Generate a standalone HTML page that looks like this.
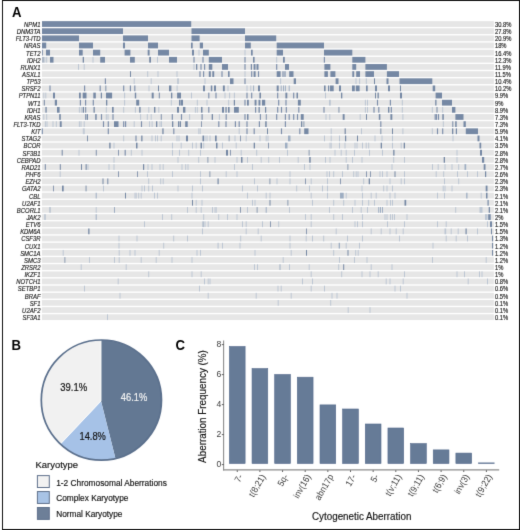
<!DOCTYPE html>
<html><head><meta charset="utf-8"><title>Figure</title>
<style>html,body{margin:0;padding:0;background:#fff;}body{width:520px;height:530px;overflow:hidden;}svg{display:block;}</style>
</head><body>
<svg width="520" height="530" viewBox="0 0 520 530">
<style>
text{font-family:"Liberation Sans",sans-serif;}
.g{font-size:6.8px;font-style:italic;text-anchor:end;fill:#1a1a1a;stroke:#1a1a1a;stroke-width:0.15px;}
.p{font-size:6.7px;fill:#1a1a1a;stroke:#1a1a1a;stroke-width:0.15px;}
.h{font-size:14px;font-weight:bold;fill:#000;}
.pl{fill:#111;stroke:#111;stroke-width:0.18px;}
.lt{fill:#111;stroke:#111;stroke-width:0.15px;}
.lg{fill:#111;stroke:#111;stroke-width:0.15px;}
.yt{font-size:8.6px;fill:#3a3a3a;}
.xt{font-size:9.2px;fill:#3a3a3a;}
.at{font-size:10.0px;fill:#111;stroke:#111;stroke-width:0.15px;}
</style>
<defs>
<filter id="bl" x="0" y="0" width="520" height="530" filterUnits="userSpaceOnUse" color-interpolation-filters="sRGB"><feConvolveMatrix order="3" kernelMatrix="0.0100 0.0800 0.0100 0.0800 0.6400 0.0800 0.0100 0.0800 0.0100" edgeMode="duplicate" preserveAlpha="true"/></filter>
<pattern id="pb" patternUnits="userSpaceOnUse" x="0" y="0" width="1.15" height="20"><rect x="0" y="0" width="1.15" height="20" fill="#7588a4"/><rect x="0" y="0" width="0.0" height="20" fill="#6a7f9e"/></pattern>
<pattern id="pg" patternUnits="userSpaceOnUse" x="0" y="0" width="1.15" height="20"><rect x="0" y="0" width="1.15" height="20" fill="#e6e6e6"/><rect x="0" y="0" width="0.0" height="20" fill="#d8d8d8"/></pattern>
</defs>
<g filter="url(#bl)">
<rect x="0" y="0" width="520" height="530" fill="#fff"/>
<rect x="2.5" y="0.5" width="517" height="529" fill="none" stroke="#111" stroke-width="1.0"/>
<text transform="translate(11.9,17.3) scale(0.94,1)" class="h">A</text>
<text transform="translate(11.5,349.9) scale(0.94,1)" class="h">B</text>
<text transform="translate(175.5,349.6) scale(0.94,1)" class="h">C</text>
<g>
<rect x="41.9" y="21.15" width="452.00" height="5.75" fill="#e6e6e6"/>
<rect x="41.9" y="28.30" width="452.00" height="5.75" fill="#e6e6e6"/>
<rect x="41.9" y="35.45" width="452.00" height="5.75" fill="#e6e6e6"/>
<rect x="41.9" y="42.60" width="452.00" height="5.75" fill="#e6e6e6"/>
<rect x="41.9" y="49.75" width="452.00" height="5.75" fill="#e6e6e6"/>
<rect x="41.9" y="56.90" width="452.00" height="5.75" fill="#e6e6e6"/>
<rect x="41.9" y="64.05" width="452.00" height="5.75" fill="#e6e6e6"/>
<rect x="41.9" y="71.20" width="452.00" height="5.75" fill="#e6e6e6"/>
<rect x="41.9" y="78.35" width="452.00" height="5.75" fill="#e6e6e6"/>
<rect x="41.9" y="85.50" width="452.00" height="5.75" fill="#e6e6e6"/>
<rect x="41.9" y="92.65" width="452.00" height="5.75" fill="#e6e6e6"/>
<rect x="41.9" y="99.80" width="452.00" height="5.75" fill="#e6e6e6"/>
<rect x="41.9" y="106.95" width="452.00" height="5.75" fill="#e6e6e6"/>
<rect x="41.9" y="114.10" width="452.00" height="5.75" fill="#e6e6e6"/>
<rect x="41.9" y="121.25" width="452.00" height="5.75" fill="#e6e6e6"/>
<rect x="41.9" y="128.40" width="452.00" height="5.75" fill="#e6e6e6"/>
<rect x="41.9" y="135.55" width="452.00" height="5.75" fill="#e6e6e6"/>
<rect x="41.9" y="142.70" width="452.00" height="5.75" fill="#e6e6e6"/>
<rect x="41.9" y="149.85" width="452.00" height="5.75" fill="#e6e6e6"/>
<rect x="41.9" y="157.00" width="452.00" height="5.75" fill="#e6e6e6"/>
<rect x="41.9" y="164.15" width="452.00" height="5.75" fill="#e6e6e6"/>
<rect x="41.9" y="171.30" width="452.00" height="5.75" fill="#e6e6e6"/>
<rect x="41.9" y="178.45" width="452.00" height="5.75" fill="#e6e6e6"/>
<rect x="41.9" y="185.60" width="452.00" height="5.75" fill="#e6e6e6"/>
<rect x="41.9" y="192.75" width="452.00" height="5.75" fill="#e6e6e6"/>
<rect x="41.9" y="199.90" width="452.00" height="5.75" fill="#e6e6e6"/>
<rect x="41.9" y="207.05" width="452.00" height="5.75" fill="#e6e6e6"/>
<rect x="41.9" y="214.20" width="452.00" height="5.75" fill="#e6e6e6"/>
<rect x="41.9" y="221.35" width="452.00" height="5.75" fill="#e6e6e6"/>
<rect x="41.9" y="228.50" width="452.00" height="5.75" fill="#e6e6e6"/>
<rect x="41.9" y="235.65" width="452.00" height="5.75" fill="#e6e6e6"/>
<rect x="41.9" y="242.80" width="452.00" height="5.75" fill="#e6e6e6"/>
<rect x="41.9" y="249.95" width="452.00" height="5.75" fill="#e6e6e6"/>
<rect x="41.9" y="257.10" width="452.00" height="5.75" fill="#e6e6e6"/>
<rect x="41.9" y="264.25" width="452.00" height="5.75" fill="#e6e6e6"/>
<rect x="41.9" y="271.40" width="452.00" height="5.75" fill="#e6e6e6"/>
<rect x="41.9" y="278.55" width="452.00" height="5.75" fill="#e6e6e6"/>
<rect x="41.9" y="285.70" width="452.00" height="5.75" fill="#e6e6e6"/>
<rect x="41.9" y="292.85" width="452.00" height="5.75" fill="#e6e6e6"/>
<rect x="41.9" y="300.00" width="452.00" height="5.75" fill="#e6e6e6"/>
<rect x="41.9" y="307.15" width="452.00" height="5.75" fill="#e6e6e6"/>
<rect x="41.9" y="314.30" width="452.00" height="5.75" fill="#e6e6e6"/>
<rect x="42.00" y="21.15" width="149.20" height="5.75" fill="#7588a4"/>
<rect x="42.00" y="28.30" width="81.00" height="5.75" fill="#7588a4"/>
<rect x="191.50" y="28.30" width="53.50" height="5.75" fill="#7588a4"/>
<rect x="42.00" y="35.45" width="37.00" height="5.75" fill="#7588a4"/>
<rect x="123.00" y="35.45" width="25.00" height="5.75" fill="#7588a4"/>
<rect x="191.50" y="35.45" width="8.10" height="5.75" fill="#7588a4"/>
<rect x="245.00" y="35.45" width="31.20" height="5.75" fill="#7588a4"/>
<rect x="42.00" y="42.60" width="4.20" height="5.75" fill="#7588a4"/>
<rect x="79.00" y="42.60" width="14.00" height="5.75" fill="#7588a4"/>
<rect x="123.00" y="42.60" width="2.00" height="5.75" fill="#7588a4"/>
<rect x="148.00" y="42.60" width="10.00" height="5.75" fill="#7588a4"/>
<rect x="191.00" y="42.60" width="1.70" height="5.75" fill="#7588a4"/>
<rect x="199.80" y="42.60" width="3.20" height="5.75" fill="#7588a4"/>
<rect x="245.00" y="42.60" width="5.80" height="5.75" fill="#7588a4"/>
<rect x="276.70" y="42.60" width="47.30" height="5.75" fill="#7588a4"/>
<rect x="42.00" y="49.75" width="0.80" height="5.75" fill="#7588a4"/>
<rect x="46.00" y="49.75" width="4.00" height="5.75" fill="#7588a4"/>
<rect x="79.00" y="49.75" width="3.70" height="5.75" fill="#7588a4"/>
<rect x="93.00" y="49.75" width="7.20" height="5.75" fill="#7588a4"/>
<rect x="124.60" y="49.75" width="5.80" height="5.75" fill="#7588a4"/>
<rect x="147.70" y="49.75" width="1.90" height="5.75" fill="#7588a4"/>
<rect x="158.00" y="49.75" width="11.00" height="5.75" fill="#7588a4"/>
<rect x="192.00" y="49.75" width="2.00" height="5.75" fill="#7588a4"/>
<rect x="198.50" y="49.75" width="1.00" height="5.75" fill="#bcc6d3"/>
<rect x="203.00" y="49.75" width="5.80" height="5.75" fill="#7588a4"/>
<rect x="244.50" y="49.75" width="1.00" height="5.75" fill="#bcc6d3"/>
<rect x="251.00" y="49.75" width="1.70" height="5.75" fill="#7588a4"/>
<rect x="276.70" y="49.75" width="6.30" height="5.75" fill="#7588a4"/>
<rect x="324.00" y="49.75" width="28.30" height="5.75" fill="#7588a4"/>
<rect x="42.50" y="56.90" width="1.00" height="5.75" fill="#7588a4"/>
<rect x="44.30" y="56.90" width="1.00" height="5.75" fill="#bcc6d3"/>
<rect x="46.20" y="56.90" width="1.00" height="5.75" fill="#bcc6d3"/>
<rect x="50.00" y="56.90" width="3.50" height="5.75" fill="#7588a4"/>
<rect x="82.70" y="56.90" width="1.30" height="5.75" fill="#7588a4"/>
<rect x="92.50" y="56.90" width="1.00" height="5.75" fill="#bcc6d3"/>
<rect x="100.20" y="56.90" width="4.80" height="5.75" fill="#7588a4"/>
<rect x="130.00" y="56.90" width="4.80" height="5.75" fill="#7588a4"/>
<rect x="149.20" y="56.90" width="1.80" height="5.75" fill="#7588a4"/>
<rect x="157.00" y="56.90" width="1.00" height="5.75" fill="#bcc6d3"/>
<rect x="169.00" y="56.90" width="8.00" height="5.75" fill="#7588a4"/>
<rect x="193.43" y="56.90" width="1.15" height="5.75" fill="#7b8daa"/>
<rect x="202.43" y="56.90" width="1.15" height="5.75" fill="#7b8daa"/>
<rect x="208.80" y="56.90" width="13.20" height="5.75" fill="#7588a4"/>
<rect x="244.43" y="56.90" width="1.15" height="5.75" fill="#7b8daa"/>
<rect x="253.00" y="56.90" width="1.60" height="5.75" fill="#7588a4"/>
<rect x="276.20" y="56.90" width="1.00" height="5.75" fill="#bcc6d3"/>
<rect x="283.00" y="56.90" width="1.80" height="5.75" fill="#7588a4"/>
<rect x="323.82" y="56.90" width="1.15" height="5.75" fill="#7b8daa"/>
<rect x="352.30" y="56.90" width="13.10" height="5.75" fill="#7588a4"/>
<rect x="78.00" y="64.05" width="1.00" height="5.75" fill="#bcc6d3"/>
<rect x="83.70" y="64.05" width="1.00" height="5.75" fill="#bcc6d3"/>
<rect x="193.50" y="64.05" width="1.00" height="5.75" fill="#bcc6d3"/>
<rect x="196.00" y="64.05" width="1.30" height="5.75" fill="#7588a4"/>
<rect x="200.43" y="64.05" width="1.15" height="5.75" fill="#7b8daa"/>
<rect x="204.03" y="64.05" width="1.15" height="5.75" fill="#7b8daa"/>
<rect x="208.80" y="64.05" width="3.50" height="5.75" fill="#7588a4"/>
<rect x="222.00" y="64.05" width="6.00" height="5.75" fill="#7588a4"/>
<rect x="244.43" y="64.05" width="1.15" height="5.75" fill="#7b8daa"/>
<rect x="250.80" y="64.05" width="1.20" height="5.75" fill="#7588a4"/>
<rect x="253.60" y="64.05" width="1.90" height="5.75" fill="#7588a4"/>
<rect x="256.50" y="64.05" width="2.00" height="5.75" fill="#7588a4"/>
<rect x="276.12" y="64.05" width="1.15" height="5.75" fill="#7b8daa"/>
<rect x="285.00" y="64.05" width="4.00" height="5.75" fill="#7588a4"/>
<rect x="324.40" y="64.05" width="6.00" height="5.75" fill="#7588a4"/>
<rect x="352.30" y="64.05" width="3.90" height="5.75" fill="#7588a4"/>
<rect x="365.40" y="64.05" width="21.50" height="5.75" fill="#7588a4"/>
<rect x="130.00" y="71.20" width="1.00" height="5.75" fill="#7588a4"/>
<rect x="147.20" y="71.20" width="1.00" height="5.75" fill="#bcc6d3"/>
<rect x="157.50" y="71.20" width="1.00" height="5.75" fill="#bcc6d3"/>
<rect x="176.50" y="71.20" width="1.00" height="5.75" fill="#bcc6d3"/>
<rect x="199.43" y="71.20" width="1.15" height="5.75" fill="#7b8daa"/>
<rect x="203.03" y="71.20" width="1.15" height="5.75" fill="#7b8daa"/>
<rect x="208.80" y="71.20" width="2.00" height="5.75" fill="#7588a4"/>
<rect x="212.30" y="71.20" width="1.90" height="5.75" fill="#7588a4"/>
<rect x="221.43" y="71.20" width="1.15" height="5.75" fill="#7b8daa"/>
<rect x="228.00" y="71.20" width="1.60" height="5.75" fill="#7588a4"/>
<rect x="244.50" y="71.20" width="1.00" height="5.75" fill="#bcc6d3"/>
<rect x="251.12" y="71.20" width="1.15" height="5.75" fill="#7b8daa"/>
<rect x="253.60" y="71.20" width="2.00" height="5.75" fill="#7588a4"/>
<rect x="257.93" y="71.20" width="1.15" height="5.75" fill="#7b8daa"/>
<rect x="276.70" y="71.20" width="3.90" height="5.75" fill="#7588a4"/>
<rect x="282.43" y="71.20" width="1.15" height="5.75" fill="#7b8daa"/>
<rect x="284.43" y="71.20" width="1.15" height="5.75" fill="#7b8daa"/>
<rect x="289.20" y="71.20" width="4.30" height="5.75" fill="#7588a4"/>
<rect x="324.40" y="71.20" width="3.50" height="5.75" fill="#7588a4"/>
<rect x="330.40" y="71.20" width="5.00" height="5.75" fill="#7588a4"/>
<rect x="352.30" y="71.20" width="1.90" height="5.75" fill="#7588a4"/>
<rect x="356.20" y="71.20" width="3.80" height="5.75" fill="#7588a4"/>
<rect x="365.40" y="71.20" width="8.60" height="5.75" fill="#7588a4"/>
<rect x="386.90" y="71.20" width="12.10" height="5.75" fill="#7588a4"/>
<rect x="104.83" y="78.35" width="1.15" height="5.75" fill="#7b8daa"/>
<rect x="133.70" y="78.35" width="1.00" height="5.75" fill="#bcc6d3"/>
<rect x="150.70" y="78.35" width="1.00" height="5.75" fill="#bcc6d3"/>
<rect x="177.50" y="78.35" width="1.00" height="5.75" fill="#9dadc2"/>
<rect x="204.50" y="78.35" width="1.00" height="5.75" fill="#bcc6d3"/>
<rect x="230.00" y="78.35" width="3.50" height="5.75" fill="#7588a4"/>
<rect x="244.43" y="78.35" width="1.15" height="5.75" fill="#7b8daa"/>
<rect x="280.10" y="78.35" width="1.00" height="5.75" fill="#bcc6d3"/>
<rect x="293.70" y="78.35" width="2.30" height="5.75" fill="#7588a4"/>
<rect x="335.60" y="78.35" width="2.90" height="5.75" fill="#7588a4"/>
<rect x="355.50" y="78.35" width="1.00" height="5.75" fill="#bcc6d3"/>
<rect x="359.10" y="78.35" width="1.00" height="5.75" fill="#bcc6d3"/>
<rect x="365.80" y="78.35" width="1.00" height="5.75" fill="#bcc6d3"/>
<rect x="374.00" y="78.35" width="1.00" height="5.75" fill="#7588a4"/>
<rect x="386.50" y="78.35" width="2.00" height="5.75" fill="#7588a4"/>
<rect x="399.50" y="78.35" width="32.80" height="5.75" fill="#7588a4"/>
<rect x="49.42" y="85.50" width="1.15" height="5.75" fill="#7b8daa"/>
<rect x="84.02" y="85.50" width="1.15" height="5.75" fill="#7b8daa"/>
<rect x="99.62" y="85.50" width="1.15" height="5.75" fill="#7b8daa"/>
<rect x="105.40" y="85.50" width="0.90" height="5.75" fill="#7588a4"/>
<rect x="123.12" y="85.50" width="1.15" height="5.75" fill="#7b8daa"/>
<rect x="129.83" y="85.50" width="1.15" height="5.75" fill="#7b8daa"/>
<rect x="134.23" y="85.50" width="1.15" height="5.75" fill="#7b8daa"/>
<rect x="148.50" y="85.50" width="1.00" height="5.75" fill="#bcc6d3"/>
<rect x="158.00" y="85.50" width="1.00" height="5.75" fill="#7588a4"/>
<rect x="169.00" y="85.50" width="2.40" height="5.75" fill="#7588a4"/>
<rect x="176.60" y="85.50" width="1.00" height="5.75" fill="#bcc6d3"/>
<rect x="203.00" y="85.50" width="2.00" height="5.75" fill="#7588a4"/>
<rect x="210.80" y="85.50" width="1.50" height="5.75" fill="#7588a4"/>
<rect x="214.00" y="85.50" width="2.00" height="5.75" fill="#7588a4"/>
<rect x="222.90" y="85.50" width="1.90" height="5.75" fill="#7588a4"/>
<rect x="227.50" y="85.50" width="1.00" height="5.75" fill="#bcc6d3"/>
<rect x="246.50" y="85.50" width="1.00" height="5.75" fill="#bcc6d3"/>
<rect x="250.30" y="85.50" width="1.00" height="5.75" fill="#bcc6d3"/>
<rect x="253.10" y="85.50" width="1.00" height="5.75" fill="#9dadc2"/>
<rect x="258.00" y="85.50" width="2.00" height="5.75" fill="#7588a4"/>
<rect x="276.70" y="85.50" width="2.00" height="5.75" fill="#7588a4"/>
<rect x="280.70" y="85.50" width="1.00" height="5.75" fill="#9dadc2"/>
<rect x="283.00" y="85.50" width="1.00" height="5.75" fill="#9dadc2"/>
<rect x="284.90" y="85.50" width="1.00" height="5.75" fill="#9dadc2"/>
<rect x="288.70" y="85.50" width="1.00" height="5.75" fill="#9dadc2"/>
<rect x="324.00" y="85.50" width="1.60" height="5.75" fill="#7588a4"/>
<rect x="328.00" y="85.50" width="1.00" height="5.75" fill="#7588a4"/>
<rect x="329.80" y="85.50" width="3.90" height="5.75" fill="#7588a4"/>
<rect x="339.00" y="85.50" width="2.00" height="5.75" fill="#7588a4"/>
<rect x="352.00" y="85.50" width="2.80" height="5.75" fill="#7588a4"/>
<rect x="355.80" y="85.50" width="3.80" height="5.75" fill="#7588a4"/>
<rect x="366.00" y="85.50" width="1.70" height="5.75" fill="#7588a4"/>
<rect x="375.00" y="85.50" width="2.00" height="5.75" fill="#7588a4"/>
<rect x="388.00" y="85.50" width="2.00" height="5.75" fill="#7588a4"/>
<rect x="400.00" y="85.50" width="1.00" height="5.75" fill="#7588a4"/>
<rect x="432.70" y="85.50" width="2.50" height="5.75" fill="#7588a4"/>
<rect x="43.30" y="92.65" width="1.00" height="5.75" fill="#bcc6d3"/>
<rect x="45.30" y="92.65" width="1.00" height="5.75" fill="#bcc6d3"/>
<rect x="53.00" y="92.65" width="2.00" height="5.75" fill="#7588a4"/>
<rect x="79.00" y="92.65" width="1.80" height="5.75" fill="#7588a4"/>
<rect x="82.70" y="92.65" width="3.80" height="5.75" fill="#7588a4"/>
<rect x="93.30" y="92.65" width="2.50" height="5.75" fill="#7588a4"/>
<rect x="100.80" y="92.65" width="1.20" height="5.75" fill="#7588a4"/>
<rect x="106.00" y="92.65" width="6.10" height="5.75" fill="#7588a4"/>
<rect x="124.10" y="92.65" width="1.00" height="5.75" fill="#bcc6d3"/>
<rect x="134.80" y="92.65" width="1.40" height="5.75" fill="#7588a4"/>
<rect x="151.70" y="92.65" width="2.00" height="5.75" fill="#7588a4"/>
<rect x="158.80" y="92.65" width="1.00" height="5.75" fill="#7588a4"/>
<rect x="171.00" y="92.65" width="1.30" height="5.75" fill="#7588a4"/>
<rect x="177.10" y="92.65" width="3.90" height="5.75" fill="#7588a4"/>
<rect x="191.00" y="92.65" width="1.00" height="5.75" fill="#bcc6d3"/>
<rect x="208.23" y="92.65" width="1.15" height="5.75" fill="#7b8daa"/>
<rect x="215.43" y="92.65" width="1.15" height="5.75" fill="#7b8daa"/>
<rect x="224.50" y="92.65" width="1.00" height="5.75" fill="#bcc6d3"/>
<rect x="229.10" y="92.65" width="1.00" height="5.75" fill="#bcc6d3"/>
<rect x="233.90" y="92.65" width="1.00" height="5.75" fill="#bcc6d3"/>
<rect x="246.43" y="92.65" width="1.15" height="5.75" fill="#7b8daa"/>
<rect x="251.12" y="92.65" width="1.15" height="5.75" fill="#7b8daa"/>
<rect x="259.40" y="92.65" width="1.60" height="5.75" fill="#7588a4"/>
<rect x="277.12" y="92.65" width="1.15" height="5.75" fill="#7b8daa"/>
<rect x="285.40" y="92.65" width="1.90" height="5.75" fill="#7588a4"/>
<rect x="293.12" y="92.65" width="1.15" height="5.75" fill="#7b8daa"/>
<rect x="296.50" y="92.65" width="1.50" height="5.75" fill="#7588a4"/>
<rect x="325.00" y="92.65" width="1.00" height="5.75" fill="#bcc6d3"/>
<rect x="341.00" y="92.65" width="1.30" height="5.75" fill="#7588a4"/>
<rect x="375.00" y="92.65" width="1.00" height="5.75" fill="#7588a4"/>
<rect x="377.50" y="92.65" width="1.30" height="5.75" fill="#7588a4"/>
<rect x="400.00" y="92.65" width="2.00" height="5.75" fill="#7588a4"/>
<rect x="435.60" y="92.65" width="6.40" height="5.75" fill="#7588a4"/>
<rect x="43.80" y="99.80" width="1.00" height="5.75" fill="#7588a4"/>
<rect x="54.80" y="99.80" width="2.20" height="5.75" fill="#7588a4"/>
<rect x="79.83" y="99.80" width="1.15" height="5.75" fill="#7b8daa"/>
<rect x="85.02" y="99.80" width="1.15" height="5.75" fill="#7b8daa"/>
<rect x="92.72" y="99.80" width="1.15" height="5.75" fill="#7b8daa"/>
<rect x="106.00" y="99.80" width="1.30" height="5.75" fill="#7588a4"/>
<rect x="124.10" y="99.80" width="1.00" height="5.75" fill="#bcc6d3"/>
<rect x="136.20" y="99.80" width="3.00" height="5.75" fill="#7588a4"/>
<rect x="170.80" y="99.80" width="1.00" height="5.75" fill="#bcc6d3"/>
<rect x="179.00" y="99.80" width="1.60" height="5.75" fill="#7588a4"/>
<rect x="181.00" y="99.80" width="2.00" height="5.75" fill="#7588a4"/>
<rect x="196.80" y="99.80" width="1.00" height="5.75" fill="#bcc6d3"/>
<rect x="206.50" y="99.80" width="1.00" height="5.75" fill="#bcc6d3"/>
<rect x="228.20" y="99.80" width="1.00" height="5.75" fill="#bcc6d3"/>
<rect x="233.80" y="99.80" width="1.20" height="5.75" fill="#7588a4"/>
<rect x="244.43" y="99.80" width="1.15" height="5.75" fill="#7b8daa"/>
<rect x="247.00" y="99.80" width="1.80" height="5.75" fill="#7588a4"/>
<rect x="254.60" y="99.80" width="1.90" height="5.75" fill="#7588a4"/>
<rect x="258.50" y="99.80" width="1.90" height="5.75" fill="#7588a4"/>
<rect x="262.00" y="99.80" width="3.20" height="5.75" fill="#7588a4"/>
<rect x="278.12" y="99.80" width="1.15" height="5.75" fill="#7b8daa"/>
<rect x="285.43" y="99.80" width="1.15" height="5.75" fill="#7b8daa"/>
<rect x="297.90" y="99.80" width="2.90" height="5.75" fill="#7588a4"/>
<rect x="329.00" y="99.80" width="1.80" height="5.75" fill="#bcc6d3"/>
<rect x="364.90" y="99.80" width="1.00" height="5.75" fill="#bcc6d3"/>
<rect x="367.00" y="99.80" width="1.00" height="5.75" fill="#bcc6d3"/>
<rect x="376.93" y="99.80" width="1.15" height="5.75" fill="#7b8daa"/>
<rect x="389.82" y="99.80" width="1.15" height="5.75" fill="#7b8daa"/>
<rect x="401.80" y="99.80" width="1.00" height="5.75" fill="#bcc6d3"/>
<rect x="435.20" y="99.80" width="1.30" height="5.75" fill="#7588a4"/>
<rect x="442.00" y="99.80" width="10.00" height="5.75" fill="#7588a4"/>
<rect x="45.40" y="106.95" width="1.30" height="5.75" fill="#7588a4"/>
<rect x="57.00" y="106.95" width="2.60" height="5.75" fill="#7588a4"/>
<rect x="78.90" y="106.95" width="1.00" height="5.75" fill="#bcc6d3"/>
<rect x="80.80" y="106.95" width="1.00" height="5.75" fill="#bcc6d3"/>
<rect x="82.70" y="106.95" width="1.30" height="5.75" fill="#7588a4"/>
<rect x="85.20" y="106.95" width="1.00" height="5.75" fill="#7588a4"/>
<rect x="93.50" y="106.95" width="1.30" height="5.75" fill="#7588a4"/>
<rect x="105.80" y="106.95" width="1.00" height="5.75" fill="#bcc6d3"/>
<rect x="112.00" y="106.95" width="1.70" height="5.75" fill="#7588a4"/>
<rect x="123.20" y="106.95" width="1.00" height="5.75" fill="#bcc6d3"/>
<rect x="134.90" y="106.95" width="1.00" height="5.75" fill="#bcc6d3"/>
<rect x="139.20" y="106.95" width="1.40" height="5.75" fill="#7588a4"/>
<rect x="148.30" y="106.95" width="1.00" height="5.75" fill="#bcc6d3"/>
<rect x="154.00" y="106.95" width="1.40" height="5.75" fill="#7588a4"/>
<rect x="158.30" y="106.95" width="1.00" height="5.75" fill="#bcc6d3"/>
<rect x="177.00" y="106.95" width="2.00" height="5.75" fill="#7588a4"/>
<rect x="183.00" y="106.95" width="2.40" height="5.75" fill="#7588a4"/>
<rect x="194.90" y="106.95" width="1.00" height="5.75" fill="#bcc6d3"/>
<rect x="196.80" y="106.95" width="1.00" height="5.75" fill="#bcc6d3"/>
<rect x="201.00" y="106.95" width="1.50" height="5.75" fill="#7588a4"/>
<rect x="208.23" y="106.95" width="1.15" height="5.75" fill="#7b8daa"/>
<rect x="222.00" y="106.95" width="2.00" height="5.75" fill="#7588a4"/>
<rect x="225.40" y="106.95" width="1.30" height="5.75" fill="#7588a4"/>
<rect x="228.00" y="106.95" width="1.60" height="5.75" fill="#7588a4"/>
<rect x="234.00" y="106.95" width="4.80" height="5.75" fill="#7588a4"/>
<rect x="255.03" y="106.95" width="1.15" height="5.75" fill="#7b8daa"/>
<rect x="258.50" y="106.95" width="1.30" height="5.75" fill="#7588a4"/>
<rect x="265.00" y="106.95" width="1.20" height="5.75" fill="#7588a4"/>
<rect x="277.12" y="106.95" width="1.15" height="5.75" fill="#7b8daa"/>
<rect x="280.93" y="106.95" width="1.15" height="5.75" fill="#7b8daa"/>
<rect x="285.73" y="106.95" width="1.15" height="5.75" fill="#7b8daa"/>
<rect x="298.23" y="106.95" width="1.15" height="5.75" fill="#7b8daa"/>
<rect x="323.43" y="106.95" width="1.15" height="5.75" fill="#7b8daa"/>
<rect x="338.50" y="106.95" width="0.90" height="5.75" fill="#7588a4"/>
<rect x="364.90" y="106.95" width="1.00" height="5.75" fill="#bcc6d3"/>
<rect x="367.00" y="106.95" width="1.00" height="5.75" fill="#bcc6d3"/>
<rect x="373.43" y="106.95" width="1.15" height="5.75" fill="#7b8daa"/>
<rect x="378.23" y="106.95" width="1.15" height="5.75" fill="#7b8daa"/>
<rect x="388.00" y="106.95" width="1.40" height="5.75" fill="#7588a4"/>
<rect x="390.73" y="106.95" width="1.15" height="5.75" fill="#7b8daa"/>
<rect x="401.80" y="106.95" width="1.00" height="5.75" fill="#bcc6d3"/>
<rect x="431.80" y="106.95" width="1.00" height="5.75" fill="#bcc6d3"/>
<rect x="436.50" y="106.95" width="1.00" height="5.75" fill="#7588a4"/>
<rect x="442.20" y="106.95" width="1.00" height="5.75" fill="#bcc6d3"/>
<rect x="452.00" y="106.95" width="3.40" height="5.75" fill="#7588a4"/>
<rect x="43.30" y="114.10" width="1.00" height="5.75" fill="#bcc6d3"/>
<rect x="46.20" y="114.10" width="1.00" height="5.75" fill="#bcc6d3"/>
<rect x="59.20" y="114.10" width="1.60" height="5.75" fill="#7588a4"/>
<rect x="85.20" y="114.10" width="1.10" height="5.75" fill="#7588a4"/>
<rect x="86.80" y="114.10" width="1.20" height="5.75" fill="#7588a4"/>
<rect x="95.20" y="114.10" width="1.50" height="5.75" fill="#7588a4"/>
<rect x="100.92" y="114.10" width="1.15" height="5.75" fill="#7b8daa"/>
<rect x="105.80" y="114.10" width="1.00" height="5.75" fill="#bcc6d3"/>
<rect x="107.50" y="114.10" width="1.00" height="5.75" fill="#bcc6d3"/>
<rect x="112.42" y="114.10" width="1.15" height="5.75" fill="#7b8daa"/>
<rect x="140.10" y="114.10" width="1.00" height="5.75" fill="#bcc6d3"/>
<rect x="146.80" y="114.10" width="1.00" height="5.75" fill="#bcc6d3"/>
<rect x="150.70" y="114.10" width="1.00" height="5.75" fill="#bcc6d3"/>
<rect x="160.80" y="114.10" width="0.90" height="5.75" fill="#7588a4"/>
<rect x="171.73" y="114.10" width="1.15" height="5.75" fill="#7b8daa"/>
<rect x="180.93" y="114.10" width="1.15" height="5.75" fill="#7b8daa"/>
<rect x="189.10" y="114.10" width="1.00" height="5.75" fill="#bcc6d3"/>
<rect x="201.53" y="114.10" width="1.15" height="5.75" fill="#7b8daa"/>
<rect x="211.70" y="114.10" width="1.30" height="5.75" fill="#7588a4"/>
<rect x="218.90" y="114.10" width="1.00" height="5.75" fill="#bcc6d3"/>
<rect x="225.62" y="114.10" width="1.15" height="5.75" fill="#7b8daa"/>
<rect x="244.43" y="114.10" width="1.15" height="5.75" fill="#7b8daa"/>
<rect x="247.00" y="114.10" width="1.50" height="5.75" fill="#7588a4"/>
<rect x="259.82" y="114.10" width="1.15" height="5.75" fill="#7b8daa"/>
<rect x="265.80" y="114.10" width="0.90" height="5.75" fill="#7588a4"/>
<rect x="276.12" y="114.10" width="1.15" height="5.75" fill="#7b8daa"/>
<rect x="284.82" y="114.10" width="1.15" height="5.75" fill="#7b8daa"/>
<rect x="288.62" y="114.10" width="1.15" height="5.75" fill="#7b8daa"/>
<rect x="293.12" y="114.10" width="1.15" height="5.75" fill="#7b8daa"/>
<rect x="296.93" y="114.10" width="1.15" height="5.75" fill="#7b8daa"/>
<rect x="300.80" y="114.10" width="2.90" height="5.75" fill="#7588a4"/>
<rect x="325.50" y="114.10" width="1.00" height="5.75" fill="#bcc6d3"/>
<rect x="329.30" y="114.10" width="1.00" height="5.75" fill="#bcc6d3"/>
<rect x="342.70" y="114.10" width="1.90" height="5.75" fill="#7588a4"/>
<rect x="359.70" y="114.10" width="1.00" height="5.75" fill="#bcc6d3"/>
<rect x="366.00" y="114.10" width="1.00" height="5.75" fill="#7588a4"/>
<rect x="378.80" y="114.10" width="1.60" height="5.75" fill="#7588a4"/>
<rect x="390.40" y="114.10" width="1.90" height="5.75" fill="#7588a4"/>
<rect x="402.40" y="114.10" width="1.00" height="5.75" fill="#bcc6d3"/>
<rect x="434.62" y="114.10" width="1.15" height="5.75" fill="#7b8daa"/>
<rect x="435.93" y="114.10" width="1.15" height="5.75" fill="#7b8daa"/>
<rect x="437.93" y="114.10" width="1.15" height="5.75" fill="#7b8daa"/>
<rect x="442.30" y="114.10" width="1.50" height="5.75" fill="#7588a4"/>
<rect x="455.40" y="114.10" width="8.10" height="5.75" fill="#7588a4"/>
<rect x="44.90" y="121.25" width="1.00" height="5.75" fill="#bcc6d3"/>
<rect x="46.50" y="121.25" width="1.00" height="5.75" fill="#bcc6d3"/>
<rect x="52.50" y="121.25" width="1.00" height="5.75" fill="#bcc6d3"/>
<rect x="55.80" y="121.25" width="1.00" height="5.75" fill="#bcc6d3"/>
<rect x="59.80" y="121.25" width="1.90" height="5.75" fill="#7588a4"/>
<rect x="78.90" y="121.25" width="1.00" height="5.75" fill="#bcc6d3"/>
<rect x="80.50" y="121.25" width="1.00" height="5.75" fill="#bcc6d3"/>
<rect x="83.70" y="121.25" width="1.00" height="5.75" fill="#bcc6d3"/>
<rect x="102.92" y="121.25" width="1.15" height="5.75" fill="#7b8daa"/>
<rect x="107.72" y="121.25" width="1.15" height="5.75" fill="#7b8daa"/>
<rect x="114.00" y="121.25" width="4.50" height="5.75" fill="#7588a4"/>
<rect x="123.12" y="121.25" width="1.15" height="5.75" fill="#7b8daa"/>
<rect x="125.02" y="121.25" width="1.15" height="5.75" fill="#7b8daa"/>
<rect x="133.70" y="121.25" width="1.00" height="5.75" fill="#bcc6d3"/>
<rect x="140.93" y="121.25" width="1.15" height="5.75" fill="#7b8daa"/>
<rect x="149.10" y="121.25" width="1.00" height="5.75" fill="#bcc6d3"/>
<rect x="151.60" y="121.25" width="1.00" height="5.75" fill="#bcc6d3"/>
<rect x="156.00" y="121.25" width="1.30" height="5.75" fill="#7588a4"/>
<rect x="159.50" y="121.25" width="1.00" height="5.75" fill="#bcc6d3"/>
<rect x="161.00" y="121.25" width="1.00" height="5.75" fill="#bcc6d3"/>
<rect x="172.00" y="121.25" width="1.30" height="5.75" fill="#7588a4"/>
<rect x="178.00" y="121.25" width="1.30" height="5.75" fill="#7588a4"/>
<rect x="179.80" y="121.25" width="1.20" height="5.75" fill="#7588a4"/>
<rect x="185.20" y="121.25" width="2.50" height="5.75" fill="#7588a4"/>
<rect x="201.20" y="121.25" width="0.80" height="5.75" fill="#7588a4"/>
<rect x="218.23" y="121.25" width="1.15" height="5.75" fill="#7b8daa"/>
<rect x="225.43" y="121.25" width="1.15" height="5.75" fill="#7b8daa"/>
<rect x="234.83" y="121.25" width="1.15" height="5.75" fill="#7b8daa"/>
<rect x="238.62" y="121.25" width="1.15" height="5.75" fill="#7b8daa"/>
<rect x="246.43" y="121.25" width="1.15" height="5.75" fill="#7b8daa"/>
<rect x="258.82" y="121.25" width="1.15" height="5.75" fill="#7b8daa"/>
<rect x="265.20" y="121.25" width="1.50" height="5.75" fill="#7588a4"/>
<rect x="284.82" y="121.25" width="1.15" height="5.75" fill="#7b8daa"/>
<rect x="301.00" y="121.25" width="1.30" height="5.75" fill="#7588a4"/>
<rect x="303.50" y="121.25" width="0.80" height="5.75" fill="#7588a4"/>
<rect x="380.23" y="121.25" width="1.15" height="5.75" fill="#7b8daa"/>
<rect x="442.80" y="121.25" width="1.00" height="5.75" fill="#bcc6d3"/>
<rect x="452.30" y="121.25" width="1.00" height="5.75" fill="#7588a4"/>
<rect x="455.20" y="121.25" width="1.50" height="5.75" fill="#7588a4"/>
<rect x="463.50" y="121.25" width="2.30" height="5.75" fill="#7588a4"/>
<rect x="41.72" y="128.40" width="1.15" height="5.75" fill="#7b8daa"/>
<rect x="82.80" y="128.40" width="1.00" height="5.75" fill="#bcc6d3"/>
<rect x="83.70" y="128.40" width="1.00" height="5.75" fill="#bcc6d3"/>
<rect x="107.72" y="128.40" width="1.15" height="5.75" fill="#7b8daa"/>
<rect x="162.30" y="128.40" width="1.30" height="5.75" fill="#7588a4"/>
<rect x="173.23" y="128.40" width="1.15" height="5.75" fill="#7b8daa"/>
<rect x="198.30" y="128.40" width="1.00" height="5.75" fill="#bcc6d3"/>
<rect x="199.70" y="128.40" width="1.00" height="5.75" fill="#bcc6d3"/>
<rect x="238.70" y="128.40" width="1.00" height="5.75" fill="#bcc6d3"/>
<rect x="246.43" y="128.40" width="1.15" height="5.75" fill="#7b8daa"/>
<rect x="253.62" y="128.40" width="1.15" height="5.75" fill="#7b8daa"/>
<rect x="267.00" y="128.40" width="1.00" height="5.75" fill="#7588a4"/>
<rect x="280.93" y="128.40" width="1.15" height="5.75" fill="#7b8daa"/>
<rect x="299.23" y="128.40" width="1.15" height="5.75" fill="#7b8daa"/>
<rect x="304.20" y="128.40" width="4.30" height="5.75" fill="#7588a4"/>
<rect x="330.70" y="128.40" width="1.00" height="5.75" fill="#bcc6d3"/>
<rect x="344.60" y="128.40" width="1.20" height="5.75" fill="#7588a4"/>
<rect x="361.00" y="128.40" width="1.00" height="5.75" fill="#bcc6d3"/>
<rect x="380.40" y="128.40" width="0.90" height="5.75" fill="#7588a4"/>
<rect x="392.00" y="128.40" width="1.00" height="5.75" fill="#7588a4"/>
<rect x="402.40" y="128.40" width="1.00" height="5.75" fill="#bcc6d3"/>
<rect x="431.80" y="128.40" width="1.00" height="5.75" fill="#bcc6d3"/>
<rect x="436.93" y="128.40" width="1.15" height="5.75" fill="#7b8daa"/>
<rect x="442.12" y="128.40" width="1.15" height="5.75" fill="#7b8daa"/>
<rect x="452.00" y="128.40" width="1.30" height="5.75" fill="#7588a4"/>
<rect x="455.80" y="128.40" width="1.20" height="5.75" fill="#7588a4"/>
<rect x="465.80" y="128.40" width="12.20" height="5.75" fill="#7588a4"/>
<rect x="87.10" y="135.55" width="0.90" height="5.75" fill="#7588a4"/>
<rect x="123.20" y="135.55" width="1.00" height="5.75" fill="#bcc6d3"/>
<rect x="135.43" y="135.55" width="1.15" height="5.75" fill="#7b8daa"/>
<rect x="141.20" y="135.55" width="1.30" height="5.75" fill="#7588a4"/>
<rect x="151.50" y="135.55" width="1.00" height="5.75" fill="#bcc6d3"/>
<rect x="155.00" y="135.55" width="1.00" height="5.75" fill="#bcc6d3"/>
<rect x="157.00" y="135.55" width="1.00" height="5.75" fill="#bcc6d3"/>
<rect x="160.70" y="135.55" width="1.00" height="5.75" fill="#bcc6d3"/>
<rect x="176.50" y="135.55" width="1.00" height="5.75" fill="#bcc6d3"/>
<rect x="178.50" y="135.55" width="1.00" height="5.75" fill="#bcc6d3"/>
<rect x="186.00" y="135.55" width="2.00" height="5.75" fill="#7588a4"/>
<rect x="202.50" y="135.55" width="1.50" height="5.75" fill="#7588a4"/>
<rect x="204.50" y="135.55" width="1.00" height="5.75" fill="#bcc6d3"/>
<rect x="206.50" y="135.55" width="1.00" height="5.75" fill="#bcc6d3"/>
<rect x="209.50" y="135.55" width="1.00" height="5.75" fill="#bcc6d3"/>
<rect x="215.00" y="135.55" width="1.70" height="5.75" fill="#7588a4"/>
<rect x="228.70" y="135.55" width="0.80" height="5.75" fill="#7588a4"/>
<rect x="234.50" y="135.55" width="1.00" height="5.75" fill="#bcc6d3"/>
<rect x="240.00" y="135.55" width="0.80" height="5.75" fill="#7588a4"/>
<rect x="245.70" y="135.55" width="1.00" height="5.75" fill="#bcc6d3"/>
<rect x="259.50" y="135.55" width="1.00" height="5.75" fill="#bcc6d3"/>
<rect x="265.70" y="135.55" width="1.00" height="5.75" fill="#bcc6d3"/>
<rect x="267.50" y="135.55" width="1.00" height="5.75" fill="#bcc6d3"/>
<rect x="288.00" y="135.55" width="2.50" height="5.75" fill="#9dadc2"/>
<rect x="324.00" y="135.55" width="1.00" height="5.75" fill="#bcc6d3"/>
<rect x="330.70" y="135.55" width="1.00" height="5.75" fill="#bcc6d3"/>
<rect x="339.00" y="135.55" width="1.00" height="5.75" fill="#bcc6d3"/>
<rect x="345.00" y="135.55" width="1.20" height="5.75" fill="#7588a4"/>
<rect x="357.00" y="135.55" width="1.00" height="5.75" fill="#7588a4"/>
<rect x="374.50" y="135.55" width="1.00" height="5.75" fill="#bcc6d3"/>
<rect x="381.50" y="135.55" width="1.00" height="5.75" fill="#bcc6d3"/>
<rect x="392.00" y="135.55" width="1.00" height="5.75" fill="#bcc6d3"/>
<rect x="452.50" y="135.55" width="1.00" height="5.75" fill="#bcc6d3"/>
<rect x="477.50" y="135.55" width="2.00" height="5.75" fill="#7588a4"/>
<rect x="109.20" y="142.70" width="1.40" height="5.75" fill="#7588a4"/>
<rect x="113.50" y="142.70" width="1.00" height="5.75" fill="#bcc6d3"/>
<rect x="136.00" y="142.70" width="1.50" height="5.75" fill="#7588a4"/>
<rect x="172.00" y="142.70" width="1.00" height="5.75" fill="#bcc6d3"/>
<rect x="180.70" y="142.70" width="1.00" height="5.75" fill="#bcc6d3"/>
<rect x="192.00" y="142.70" width="1.00" height="5.75" fill="#bcc6d3"/>
<rect x="195.70" y="142.70" width="1.00" height="5.75" fill="#bcc6d3"/>
<rect x="200.50" y="142.70" width="1.50" height="5.75" fill="#7588a4"/>
<rect x="203.20" y="142.70" width="1.00" height="5.75" fill="#bcc6d3"/>
<rect x="216.00" y="142.70" width="1.50" height="5.75" fill="#7588a4"/>
<rect x="222.00" y="142.70" width="1.00" height="5.75" fill="#bcc6d3"/>
<rect x="235.70" y="142.70" width="1.00" height="5.75" fill="#bcc6d3"/>
<rect x="253.70" y="142.70" width="1.30" height="5.75" fill="#7588a4"/>
<rect x="268.00" y="142.70" width="0.80" height="5.75" fill="#7588a4"/>
<rect x="285.00" y="142.70" width="2.50" height="5.75" fill="#9dadc2"/>
<rect x="329.50" y="142.70" width="1.00" height="5.75" fill="#bcc6d3"/>
<rect x="330.70" y="142.70" width="1.00" height="5.75" fill="#bcc6d3"/>
<rect x="339.00" y="142.70" width="1.00" height="5.75" fill="#bcc6d3"/>
<rect x="344.50" y="142.70" width="1.00" height="5.75" fill="#bcc6d3"/>
<rect x="354.50" y="142.70" width="1.00" height="5.75" fill="#bcc6d3"/>
<rect x="356.50" y="142.70" width="1.00" height="5.75" fill="#bcc6d3"/>
<rect x="362.00" y="142.70" width="1.00" height="5.75" fill="#bcc6d3"/>
<rect x="365.70" y="142.70" width="1.00" height="5.75" fill="#bcc6d3"/>
<rect x="368.20" y="142.70" width="1.00" height="5.75" fill="#bcc6d3"/>
<rect x="380.70" y="142.70" width="1.30" height="5.75" fill="#7588a4"/>
<rect x="392.00" y="142.70" width="1.00" height="5.75" fill="#bcc6d3"/>
<rect x="400.70" y="142.70" width="1.00" height="5.75" fill="#bcc6d3"/>
<rect x="403.70" y="142.70" width="1.30" height="5.75" fill="#7588a4"/>
<rect x="479.50" y="142.70" width="1.70" height="5.75" fill="#7588a4"/>
<rect x="61.70" y="149.85" width="1.00" height="5.75" fill="#7588a4"/>
<rect x="78.50" y="149.85" width="1.00" height="5.75" fill="#bcc6d3"/>
<rect x="95.80" y="149.85" width="0.90" height="5.75" fill="#7588a4"/>
<rect x="118.00" y="149.85" width="0.80" height="5.75" fill="#7588a4"/>
<rect x="124.62" y="149.85" width="1.15" height="5.75" fill="#7b8daa"/>
<rect x="130.80" y="149.85" width="1.00" height="5.75" fill="#bcc6d3"/>
<rect x="141.50" y="149.85" width="1.00" height="5.75" fill="#bcc6d3"/>
<rect x="172.00" y="149.85" width="1.00" height="5.75" fill="#bcc6d3"/>
<rect x="179.00" y="149.85" width="1.00" height="5.75" fill="#bcc6d3"/>
<rect x="188.20" y="149.85" width="1.00" height="5.75" fill="#bcc6d3"/>
<rect x="200.00" y="149.85" width="1.00" height="5.75" fill="#bcc6d3"/>
<rect x="226.00" y="149.85" width="2.00" height="5.75" fill="#7588a4"/>
<rect x="230.00" y="149.85" width="0.80" height="5.75" fill="#7588a4"/>
<rect x="240.70" y="149.85" width="1.00" height="5.75" fill="#bcc6d3"/>
<rect x="256.20" y="149.85" width="1.00" height="5.75" fill="#bcc6d3"/>
<rect x="287.00" y="149.85" width="1.00" height="5.75" fill="#bcc6d3"/>
<rect x="308.70" y="149.85" width="0.80" height="5.75" fill="#7588a4"/>
<rect x="334.50" y="149.85" width="1.00" height="5.75" fill="#bcc6d3"/>
<rect x="340.70" y="149.85" width="1.00" height="5.75" fill="#bcc6d3"/>
<rect x="345.70" y="149.85" width="1.00" height="5.75" fill="#bcc6d3"/>
<rect x="354.00" y="149.85" width="1.00" height="5.75" fill="#bcc6d3"/>
<rect x="369.00" y="149.85" width="1.00" height="5.75" fill="#bcc6d3"/>
<rect x="382.00" y="149.85" width="1.00" height="5.75" fill="#bcc6d3"/>
<rect x="393.20" y="149.85" width="1.30" height="5.75" fill="#7588a4"/>
<rect x="456.50" y="149.85" width="1.00" height="5.75" fill="#bcc6d3"/>
<rect x="480.00" y="149.85" width="2.00" height="5.75" fill="#7588a4"/>
<rect x="113.50" y="157.00" width="1.00" height="5.75" fill="#bcc6d3"/>
<rect x="177.50" y="157.00" width="1.00" height="5.75" fill="#bcc6d3"/>
<rect x="198.20" y="157.00" width="1.00" height="5.75" fill="#bcc6d3"/>
<rect x="207.50" y="157.00" width="0.80" height="5.75" fill="#7588a4"/>
<rect x="214.50" y="157.00" width="1.00" height="5.75" fill="#bcc6d3"/>
<rect x="236.50" y="157.00" width="1.00" height="5.75" fill="#bcc6d3"/>
<rect x="241.00" y="157.00" width="1.50" height="5.75" fill="#7588a4"/>
<rect x="247.00" y="157.00" width="1.00" height="5.75" fill="#bcc6d3"/>
<rect x="260.70" y="157.00" width="1.00" height="5.75" fill="#bcc6d3"/>
<rect x="268.20" y="157.00" width="1.00" height="5.75" fill="#bcc6d3"/>
<rect x="279.00" y="157.00" width="1.00" height="5.75" fill="#bcc6d3"/>
<rect x="297.70" y="157.00" width="1.00" height="5.75" fill="#bcc6d3"/>
<rect x="309.20" y="157.00" width="1.50" height="5.75" fill="#7588a4"/>
<rect x="325.00" y="157.00" width="1.00" height="5.75" fill="#bcc6d3"/>
<rect x="329.50" y="157.00" width="1.00" height="5.75" fill="#bcc6d3"/>
<rect x="345.70" y="157.00" width="1.00" height="5.75" fill="#bcc6d3"/>
<rect x="352.00" y="157.00" width="1.00" height="5.75" fill="#bcc6d3"/>
<rect x="361.50" y="157.00" width="1.00" height="5.75" fill="#bcc6d3"/>
<rect x="393.20" y="157.00" width="1.00" height="5.75" fill="#bcc6d3"/>
<rect x="404.00" y="157.00" width="1.00" height="5.75" fill="#bcc6d3"/>
<rect x="443.70" y="157.00" width="1.30" height="5.75" fill="#7588a4"/>
<rect x="456.50" y="157.00" width="1.00" height="5.75" fill="#bcc6d3"/>
<rect x="482.00" y="157.00" width="2.20" height="5.75" fill="#7588a4"/>
<rect x="44.80" y="164.15" width="1.00" height="5.75" fill="#7588a4"/>
<rect x="59.80" y="164.15" width="1.00" height="5.75" fill="#7588a4"/>
<rect x="81.00" y="164.15" width="1.00" height="5.75" fill="#7588a4"/>
<rect x="85.60" y="164.15" width="1.10" height="5.75" fill="#7588a4"/>
<rect x="87.50" y="164.15" width="1.00" height="5.75" fill="#bcc6d3"/>
<rect x="108.50" y="164.15" width="1.00" height="5.75" fill="#bcc6d3"/>
<rect x="113.50" y="164.15" width="1.00" height="5.75" fill="#bcc6d3"/>
<rect x="143.00" y="164.15" width="1.20" height="5.75" fill="#7588a4"/>
<rect x="147.50" y="164.15" width="1.00" height="5.75" fill="#bcc6d3"/>
<rect x="151.50" y="164.15" width="1.00" height="5.75" fill="#bcc6d3"/>
<rect x="159.50" y="164.15" width="1.00" height="5.75" fill="#bcc6d3"/>
<rect x="162.70" y="164.15" width="1.00" height="5.75" fill="#bcc6d3"/>
<rect x="181.50" y="164.15" width="1.00" height="5.75" fill="#bcc6d3"/>
<rect x="185.20" y="164.15" width="1.00" height="5.75" fill="#bcc6d3"/>
<rect x="187.50" y="164.15" width="1.00" height="5.75" fill="#bcc6d3"/>
<rect x="234.00" y="164.15" width="1.00" height="5.75" fill="#bcc6d3"/>
<rect x="252.00" y="164.15" width="1.00" height="5.75" fill="#bcc6d3"/>
<rect x="304.00" y="164.15" width="1.00" height="5.75" fill="#bcc6d3"/>
<rect x="309.50" y="164.15" width="1.00" height="5.75" fill="#bcc6d3"/>
<rect x="347.50" y="164.15" width="0.80" height="5.75" fill="#7588a4"/>
<rect x="391.50" y="164.15" width="1.00" height="5.75" fill="#bcc6d3"/>
<rect x="432.00" y="164.15" width="1.00" height="5.75" fill="#bcc6d3"/>
<rect x="437.70" y="164.15" width="1.00" height="5.75" fill="#bcc6d3"/>
<rect x="444.50" y="164.15" width="1.00" height="5.75" fill="#bcc6d3"/>
<rect x="451.50" y="164.15" width="1.00" height="5.75" fill="#bcc6d3"/>
<rect x="458.20" y="164.15" width="1.00" height="5.75" fill="#bcc6d3"/>
<rect x="464.50" y="164.15" width="1.70" height="5.75" fill="#9dadc2"/>
<rect x="483.70" y="164.15" width="1.80" height="5.75" fill="#7588a4"/>
<rect x="59.70" y="171.30" width="1.00" height="5.75" fill="#bcc6d3"/>
<rect x="118.00" y="171.30" width="0.80" height="5.75" fill="#7588a4"/>
<rect x="137.00" y="171.30" width="0.80" height="5.75" fill="#7588a4"/>
<rect x="147.00" y="171.30" width="1.00" height="5.75" fill="#bcc6d3"/>
<rect x="172.00" y="171.30" width="1.00" height="5.75" fill="#bcc6d3"/>
<rect x="200.00" y="171.30" width="1.00" height="5.75" fill="#bcc6d3"/>
<rect x="209.50" y="171.30" width="0.80" height="5.75" fill="#7588a4"/>
<rect x="225.70" y="171.30" width="1.00" height="5.75" fill="#bcc6d3"/>
<rect x="236.50" y="171.30" width="1.00" height="5.75" fill="#bcc6d3"/>
<rect x="289.50" y="171.30" width="1.00" height="5.75" fill="#bcc6d3"/>
<rect x="326.50" y="171.30" width="1.00" height="5.75" fill="#bcc6d3"/>
<rect x="329.00" y="171.30" width="1.00" height="5.75" fill="#bcc6d3"/>
<rect x="333.20" y="171.30" width="1.00" height="5.75" fill="#bcc6d3"/>
<rect x="342.00" y="171.30" width="1.00" height="5.75" fill="#bcc6d3"/>
<rect x="353.20" y="171.30" width="1.00" height="5.75" fill="#bcc6d3"/>
<rect x="355.70" y="171.30" width="1.00" height="5.75" fill="#bcc6d3"/>
<rect x="357.50" y="171.30" width="1.00" height="5.75" fill="#bcc6d3"/>
<rect x="366.20" y="171.30" width="0.80" height="5.75" fill="#7588a4"/>
<rect x="370.00" y="171.30" width="0.80" height="5.75" fill="#7588a4"/>
<rect x="379.50" y="171.30" width="1.00" height="5.75" fill="#bcc6d3"/>
<rect x="382.00" y="171.30" width="1.00" height="5.75" fill="#bcc6d3"/>
<rect x="386.50" y="171.30" width="1.00" height="5.75" fill="#bcc6d3"/>
<rect x="394.50" y="171.30" width="1.00" height="5.75" fill="#7588a4"/>
<rect x="404.00" y="171.30" width="1.00" height="5.75" fill="#bcc6d3"/>
<rect x="435.70" y="171.30" width="1.00" height="5.75" fill="#bcc6d3"/>
<rect x="443.20" y="171.30" width="1.00" height="5.75" fill="#bcc6d3"/>
<rect x="457.00" y="171.30" width="1.00" height="5.75" fill="#bcc6d3"/>
<rect x="467.00" y="171.30" width="1.00" height="5.75" fill="#bcc6d3"/>
<rect x="477.00" y="171.30" width="1.00" height="5.75" fill="#bcc6d3"/>
<rect x="485.00" y="171.30" width="1.20" height="5.75" fill="#7588a4"/>
<rect x="102.50" y="178.45" width="1.00" height="5.75" fill="#7588a4"/>
<rect x="107.30" y="178.45" width="1.00" height="5.75" fill="#7588a4"/>
<rect x="148.20" y="178.45" width="1.00" height="5.75" fill="#bcc6d3"/>
<rect x="160.20" y="178.45" width="1.00" height="5.75" fill="#bcc6d3"/>
<rect x="162.70" y="178.45" width="1.00" height="5.75" fill="#bcc6d3"/>
<rect x="200.00" y="178.45" width="1.00" height="5.75" fill="#bcc6d3"/>
<rect x="217.50" y="178.45" width="1.20" height="5.75" fill="#7588a4"/>
<rect x="254.00" y="178.45" width="1.00" height="5.75" fill="#bcc6d3"/>
<rect x="269.50" y="178.45" width="0.80" height="5.75" fill="#7588a4"/>
<rect x="276.50" y="178.45" width="1.00" height="5.75" fill="#bcc6d3"/>
<rect x="289.50" y="178.45" width="1.00" height="5.75" fill="#bcc6d3"/>
<rect x="305.00" y="178.45" width="0.80" height="5.75" fill="#7588a4"/>
<rect x="310.70" y="178.45" width="1.00" height="5.75" fill="#bcc6d3"/>
<rect x="327.00" y="178.45" width="1.00" height="5.75" fill="#bcc6d3"/>
<rect x="340.00" y="178.45" width="0.80" height="5.75" fill="#7588a4"/>
<rect x="363.20" y="178.45" width="1.00" height="5.75" fill="#bcc6d3"/>
<rect x="368.70" y="178.45" width="1.30" height="5.75" fill="#7588a4"/>
<rect x="389.50" y="178.45" width="1.00" height="5.75" fill="#bcc6d3"/>
<rect x="400.70" y="178.45" width="1.00" height="5.75" fill="#bcc6d3"/>
<rect x="404.00" y="178.45" width="1.00" height="5.75" fill="#bcc6d3"/>
<rect x="444.00" y="178.45" width="1.00" height="5.75" fill="#bcc6d3"/>
<rect x="458.20" y="178.45" width="1.00" height="5.75" fill="#bcc6d3"/>
<rect x="53.00" y="185.60" width="0.80" height="5.75" fill="#7588a4"/>
<rect x="62.00" y="185.60" width="1.70" height="5.75" fill="#7588a4"/>
<rect x="85.60" y="185.60" width="0.90" height="5.75" fill="#7588a4"/>
<rect x="103.00" y="185.60" width="1.00" height="5.75" fill="#bcc6d3"/>
<rect x="141.50" y="185.60" width="1.00" height="5.75" fill="#bcc6d3"/>
<rect x="144.00" y="185.60" width="1.00" height="5.75" fill="#bcc6d3"/>
<rect x="148.20" y="185.60" width="1.00" height="5.75" fill="#bcc6d3"/>
<rect x="152.00" y="185.60" width="1.00" height="5.75" fill="#bcc6d3"/>
<rect x="177.50" y="185.60" width="1.00" height="5.75" fill="#bcc6d3"/>
<rect x="192.00" y="185.60" width="1.00" height="5.75" fill="#bcc6d3"/>
<rect x="202.00" y="185.60" width="1.00" height="5.75" fill="#bcc6d3"/>
<rect x="242.00" y="185.60" width="1.00" height="5.75" fill="#bcc6d3"/>
<rect x="257.00" y="185.60" width="1.00" height="5.75" fill="#bcc6d3"/>
<rect x="296.20" y="185.60" width="1.00" height="5.75" fill="#bcc6d3"/>
<rect x="309.00" y="185.60" width="1.00" height="5.75" fill="#bcc6d3"/>
<rect x="322.00" y="185.60" width="1.00" height="5.75" fill="#bcc6d3"/>
<rect x="327.00" y="185.60" width="1.00" height="5.75" fill="#bcc6d3"/>
<rect x="361.50" y="185.60" width="1.00" height="5.75" fill="#bcc6d3"/>
<rect x="383.20" y="185.60" width="1.00" height="5.75" fill="#bcc6d3"/>
<rect x="386.50" y="185.60" width="1.00" height="5.75" fill="#bcc6d3"/>
<rect x="392.00" y="185.60" width="1.00" height="5.75" fill="#bcc6d3"/>
<rect x="442.70" y="185.60" width="1.00" height="5.75" fill="#bcc6d3"/>
<rect x="444.50" y="185.60" width="1.00" height="5.75" fill="#bcc6d3"/>
<rect x="451.50" y="185.60" width="1.00" height="5.75" fill="#bcc6d3"/>
<rect x="485.70" y="185.60" width="1.80" height="5.75" fill="#7588a4"/>
<rect x="95.70" y="192.75" width="1.00" height="5.75" fill="#9dadc2"/>
<rect x="125.00" y="192.75" width="1.00" height="5.75" fill="#7588a4"/>
<rect x="134.50" y="192.75" width="1.00" height="5.75" fill="#bcc6d3"/>
<rect x="135.70" y="192.75" width="1.00" height="5.75" fill="#bcc6d3"/>
<rect x="138.20" y="192.75" width="1.00" height="5.75" fill="#bcc6d3"/>
<rect x="140.70" y="192.75" width="1.00" height="5.75" fill="#bcc6d3"/>
<rect x="154.00" y="192.75" width="1.00" height="5.75" fill="#bcc6d3"/>
<rect x="157.00" y="192.75" width="1.00" height="5.75" fill="#bcc6d3"/>
<rect x="191.50" y="192.75" width="1.00" height="5.75" fill="#bcc6d3"/>
<rect x="247.00" y="192.75" width="1.00" height="5.75" fill="#bcc6d3"/>
<rect x="265.70" y="192.75" width="1.00" height="5.75" fill="#bcc6d3"/>
<rect x="269.50" y="192.75" width="1.00" height="5.75" fill="#bcc6d3"/>
<rect x="310.70" y="192.75" width="1.00" height="5.75" fill="#bcc6d3"/>
<rect x="327.00" y="192.75" width="1.00" height="5.75" fill="#bcc6d3"/>
<rect x="340.00" y="192.75" width="3.70" height="5.75" fill="#9dadc2"/>
<rect x="345.70" y="192.75" width="1.00" height="5.75" fill="#bcc6d3"/>
<rect x="362.00" y="192.75" width="1.00" height="5.75" fill="#bcc6d3"/>
<rect x="370.70" y="192.75" width="1.00" height="5.75" fill="#bcc6d3"/>
<rect x="375.70" y="192.75" width="1.00" height="5.75" fill="#bcc6d3"/>
<rect x="389.50" y="192.75" width="1.00" height="5.75" fill="#bcc6d3"/>
<rect x="394.50" y="192.75" width="1.00" height="5.75" fill="#bcc6d3"/>
<rect x="437.00" y="192.75" width="1.00" height="5.75" fill="#bcc6d3"/>
<rect x="444.00" y="192.75" width="1.00" height="5.75" fill="#bcc6d3"/>
<rect x="466.20" y="192.75" width="1.30" height="5.75" fill="#9dadc2"/>
<rect x="480.70" y="192.75" width="1.00" height="5.75" fill="#bcc6d3"/>
<rect x="486.00" y="192.75" width="1.50" height="5.75" fill="#7588a4"/>
<rect x="192.00" y="199.90" width="1.00" height="5.75" fill="#7588a4"/>
<rect x="195.70" y="199.90" width="1.00" height="5.75" fill="#bcc6d3"/>
<rect x="201.50" y="199.90" width="1.00" height="5.75" fill="#bcc6d3"/>
<rect x="252.00" y="199.90" width="1.00" height="5.75" fill="#bcc6d3"/>
<rect x="254.50" y="199.90" width="1.00" height="5.75" fill="#bcc6d3"/>
<rect x="269.50" y="199.90" width="1.00" height="5.75" fill="#7588a4"/>
<rect x="287.50" y="199.90" width="0.80" height="5.75" fill="#7588a4"/>
<rect x="312.00" y="199.90" width="1.00" height="5.75" fill="#bcc6d3"/>
<rect x="333.20" y="199.90" width="1.00" height="5.75" fill="#bcc6d3"/>
<rect x="343.20" y="199.90" width="1.00" height="5.75" fill="#bcc6d3"/>
<rect x="354.50" y="199.90" width="1.00" height="5.75" fill="#bcc6d3"/>
<rect x="362.00" y="199.90" width="1.00" height="5.75" fill="#bcc6d3"/>
<rect x="368.20" y="199.90" width="1.00" height="5.75" fill="#bcc6d3"/>
<rect x="374.00" y="199.90" width="1.00" height="5.75" fill="#bcc6d3"/>
<rect x="386.50" y="199.90" width="1.00" height="5.75" fill="#bcc6d3"/>
<rect x="390.00" y="199.90" width="1.00" height="5.75" fill="#bcc6d3"/>
<rect x="392.00" y="199.90" width="1.00" height="5.75" fill="#bcc6d3"/>
<rect x="404.50" y="199.90" width="1.70" height="5.75" fill="#7588a4"/>
<rect x="487.50" y="199.90" width="1.20" height="5.75" fill="#7588a4"/>
<rect x="49.50" y="207.05" width="1.00" height="5.75" fill="#9dadc2"/>
<rect x="95.70" y="207.05" width="1.00" height="5.75" fill="#bcc6d3"/>
<rect x="114.00" y="207.05" width="1.00" height="5.75" fill="#9dadc2"/>
<rect x="187.00" y="207.05" width="1.00" height="5.75" fill="#bcc6d3"/>
<rect x="195.70" y="207.05" width="1.00" height="5.75" fill="#bcc6d3"/>
<rect x="200.70" y="207.05" width="1.00" height="5.75" fill="#bcc6d3"/>
<rect x="212.00" y="207.05" width="1.00" height="5.75" fill="#bcc6d3"/>
<rect x="214.50" y="207.05" width="1.00" height="5.75" fill="#bcc6d3"/>
<rect x="215.70" y="207.05" width="1.00" height="5.75" fill="#bcc6d3"/>
<rect x="240.00" y="207.05" width="0.80" height="5.75" fill="#7588a4"/>
<rect x="247.00" y="207.05" width="1.00" height="5.75" fill="#bcc6d3"/>
<rect x="256.70" y="207.05" width="0.80" height="5.75" fill="#7588a4"/>
<rect x="265.70" y="207.05" width="1.00" height="5.75" fill="#9dadc2"/>
<rect x="289.00" y="207.05" width="1.00" height="5.75" fill="#bcc6d3"/>
<rect x="329.00" y="207.05" width="1.00" height="5.75" fill="#bcc6d3"/>
<rect x="352.00" y="207.05" width="1.00" height="5.75" fill="#bcc6d3"/>
<rect x="360.70" y="207.05" width="1.00" height="5.75" fill="#bcc6d3"/>
<rect x="367.00" y="207.05" width="1.00" height="5.75" fill="#bcc6d3"/>
<rect x="378.20" y="207.05" width="1.00" height="5.75" fill="#9dadc2"/>
<rect x="380.00" y="207.05" width="1.00" height="5.75" fill="#9dadc2"/>
<rect x="382.00" y="207.05" width="1.00" height="5.75" fill="#9dadc2"/>
<rect x="455.20" y="207.05" width="1.00" height="5.75" fill="#bcc6d3"/>
<rect x="479.50" y="207.05" width="3.00" height="5.75" fill="#bcc6d3"/>
<rect x="488.70" y="207.05" width="1.30" height="5.75" fill="#7588a4"/>
<rect x="44.50" y="214.20" width="1.00" height="5.75" fill="#9dadc2"/>
<rect x="95.70" y="214.20" width="1.00" height="5.75" fill="#9dadc2"/>
<rect x="162.00" y="214.20" width="1.00" height="5.75" fill="#bcc6d3"/>
<rect x="171.20" y="214.20" width="1.00" height="5.75" fill="#bcc6d3"/>
<rect x="203.20" y="214.20" width="1.00" height="5.75" fill="#bcc6d3"/>
<rect x="218.20" y="214.20" width="1.00" height="5.75" fill="#bcc6d3"/>
<rect x="227.00" y="214.20" width="1.00" height="5.75" fill="#bcc6d3"/>
<rect x="236.50" y="214.20" width="1.00" height="5.75" fill="#bcc6d3"/>
<rect x="305.00" y="214.20" width="1.00" height="5.75" fill="#bcc6d3"/>
<rect x="310.70" y="214.20" width="1.00" height="5.75" fill="#bcc6d3"/>
<rect x="333.20" y="214.20" width="1.00" height="5.75" fill="#bcc6d3"/>
<rect x="342.00" y="214.20" width="1.00" height="5.75" fill="#bcc6d3"/>
<rect x="362.00" y="214.20" width="1.00" height="5.75" fill="#bcc6d3"/>
<rect x="384.50" y="214.20" width="1.00" height="5.75" fill="#bcc6d3"/>
<rect x="386.50" y="214.20" width="1.00" height="5.75" fill="#bcc6d3"/>
<rect x="390.00" y="214.20" width="1.00" height="5.75" fill="#bcc6d3"/>
<rect x="392.00" y="214.20" width="1.00" height="5.75" fill="#bcc6d3"/>
<rect x="394.00" y="214.20" width="1.00" height="5.75" fill="#bcc6d3"/>
<rect x="406.50" y="214.20" width="1.00" height="5.75" fill="#bcc6d3"/>
<rect x="485.00" y="214.20" width="2.50" height="5.75" fill="#bcc6d3"/>
<rect x="488.20" y="214.20" width="2.50" height="5.75" fill="#7588a4"/>
<rect x="144.00" y="221.35" width="1.00" height="5.75" fill="#bcc6d3"/>
<rect x="202.50" y="221.35" width="1.20" height="5.75" fill="#9dadc2"/>
<rect x="204.50" y="221.35" width="1.00" height="5.75" fill="#bcc6d3"/>
<rect x="207.70" y="221.35" width="1.00" height="5.75" fill="#bcc6d3"/>
<rect x="242.00" y="221.35" width="1.00" height="5.75" fill="#bcc6d3"/>
<rect x="245.70" y="221.35" width="1.00" height="5.75" fill="#bcc6d3"/>
<rect x="262.00" y="221.35" width="1.00" height="5.75" fill="#bcc6d3"/>
<rect x="270.00" y="221.35" width="0.80" height="5.75" fill="#7588a4"/>
<rect x="278.20" y="221.35" width="1.00" height="5.75" fill="#bcc6d3"/>
<rect x="310.70" y="221.35" width="1.00" height="5.75" fill="#bcc6d3"/>
<rect x="354.50" y="221.35" width="1.00" height="5.75" fill="#bcc6d3"/>
<rect x="357.00" y="221.35" width="1.00" height="5.75" fill="#bcc6d3"/>
<rect x="362.00" y="221.35" width="1.00" height="5.75" fill="#bcc6d3"/>
<rect x="387.00" y="221.35" width="1.00" height="5.75" fill="#bcc6d3"/>
<rect x="404.00" y="221.35" width="1.00" height="5.75" fill="#bcc6d3"/>
<rect x="437.00" y="221.35" width="1.00" height="5.75" fill="#bcc6d3"/>
<rect x="445.70" y="221.35" width="1.00" height="5.75" fill="#bcc6d3"/>
<rect x="487.00" y="221.35" width="1.00" height="5.75" fill="#bcc6d3"/>
<rect x="490.00" y="221.35" width="2.00" height="5.75" fill="#7588a4"/>
<rect x="88.20" y="228.50" width="1.30" height="5.75" fill="#7588a4"/>
<rect x="202.00" y="228.50" width="1.00" height="5.75" fill="#bcc6d3"/>
<rect x="245.70" y="228.50" width="1.00" height="5.75" fill="#bcc6d3"/>
<rect x="257.70" y="228.50" width="1.00" height="5.75" fill="#bcc6d3"/>
<rect x="306.20" y="228.50" width="0.80" height="5.75" fill="#7588a4"/>
<rect x="335.70" y="228.50" width="1.00" height="5.75" fill="#bcc6d3"/>
<rect x="370.70" y="228.50" width="1.00" height="5.75" fill="#bcc6d3"/>
<rect x="380.70" y="228.50" width="1.00" height="5.75" fill="#bcc6d3"/>
<rect x="389.50" y="228.50" width="1.00" height="5.75" fill="#bcc6d3"/>
<rect x="395.70" y="228.50" width="1.00" height="5.75" fill="#bcc6d3"/>
<rect x="402.70" y="228.50" width="1.00" height="5.75" fill="#bcc6d3"/>
<rect x="444.50" y="228.50" width="1.70" height="5.75" fill="#bcc6d3"/>
<rect x="450.70" y="228.50" width="1.00" height="5.75" fill="#bcc6d3"/>
<rect x="457.70" y="228.50" width="1.00" height="5.75" fill="#bcc6d3"/>
<rect x="465.50" y="228.50" width="1.20" height="5.75" fill="#7588a4"/>
<rect x="477.00" y="228.50" width="1.00" height="5.75" fill="#bcc6d3"/>
<rect x="491.00" y="228.50" width="1.00" height="5.75" fill="#7588a4"/>
<rect x="118.50" y="235.65" width="1.00" height="5.75" fill="#bcc6d3"/>
<rect x="136.50" y="235.65" width="1.00" height="5.75" fill="#bcc6d3"/>
<rect x="173.20" y="235.65" width="1.00" height="5.75" fill="#bcc6d3"/>
<rect x="187.00" y="235.65" width="1.00" height="5.75" fill="#bcc6d3"/>
<rect x="240.20" y="235.65" width="1.00" height="5.75" fill="#bcc6d3"/>
<rect x="260.70" y="235.65" width="1.00" height="5.75" fill="#bcc6d3"/>
<rect x="289.50" y="235.65" width="1.00" height="5.75" fill="#bcc6d3"/>
<rect x="305.70" y="235.65" width="1.00" height="5.75" fill="#bcc6d3"/>
<rect x="312.00" y="235.65" width="1.00" height="5.75" fill="#bcc6d3"/>
<rect x="323.20" y="235.65" width="1.00" height="5.75" fill="#bcc6d3"/>
<rect x="347.00" y="235.65" width="1.00" height="5.75" fill="#bcc6d3"/>
<rect x="362.00" y="235.65" width="1.00" height="5.75" fill="#bcc6d3"/>
<rect x="399.00" y="235.65" width="1.00" height="5.75" fill="#bcc6d3"/>
<rect x="445.70" y="235.65" width="1.00" height="5.75" fill="#bcc6d3"/>
<rect x="455.70" y="235.65" width="1.00" height="5.75" fill="#bcc6d3"/>
<rect x="467.00" y="235.65" width="1.00" height="5.75" fill="#bcc6d3"/>
<rect x="492.00" y="235.65" width="1.00" height="5.75" fill="#7588a4"/>
<rect x="118.50" y="242.80" width="1.00" height="5.75" fill="#bcc6d3"/>
<rect x="163.20" y="242.80" width="1.00" height="5.75" fill="#bcc6d3"/>
<rect x="217.50" y="242.80" width="1.20" height="5.75" fill="#bcc6d3"/>
<rect x="222.00" y="242.80" width="1.00" height="5.75" fill="#bcc6d3"/>
<rect x="239.50" y="242.80" width="1.00" height="5.75" fill="#bcc6d3"/>
<rect x="289.50" y="242.80" width="1.00" height="5.75" fill="#bcc6d3"/>
<rect x="330.70" y="242.80" width="1.00" height="5.75" fill="#bcc6d3"/>
<rect x="338.70" y="242.80" width="1.30" height="5.75" fill="#9dadc2"/>
<rect x="345.70" y="242.80" width="1.00" height="5.75" fill="#bcc6d3"/>
<rect x="359.00" y="242.80" width="1.00" height="5.75" fill="#bcc6d3"/>
<rect x="432.50" y="242.80" width="1.00" height="5.75" fill="#bcc6d3"/>
<rect x="492.00" y="242.80" width="1.00" height="5.75" fill="#7588a4"/>
<rect x="62.70" y="249.95" width="1.00" height="5.75" fill="#bcc6d3"/>
<rect x="118.70" y="249.95" width="1.00" height="5.75" fill="#bcc6d3"/>
<rect x="129.50" y="249.95" width="1.00" height="5.75" fill="#bcc6d3"/>
<rect x="134.50" y="249.95" width="1.00" height="5.75" fill="#bcc6d3"/>
<rect x="158.70" y="249.95" width="1.00" height="5.75" fill="#bcc6d3"/>
<rect x="196.50" y="249.95" width="1.00" height="5.75" fill="#bcc6d3"/>
<rect x="200.00" y="249.95" width="1.00" height="5.75" fill="#bcc6d3"/>
<rect x="254.50" y="249.95" width="1.00" height="5.75" fill="#bcc6d3"/>
<rect x="290.70" y="249.95" width="1.00" height="5.75" fill="#bcc6d3"/>
<rect x="306.00" y="249.95" width="1.00" height="5.75" fill="#7588a4"/>
<rect x="333.20" y="249.95" width="1.00" height="5.75" fill="#bcc6d3"/>
<rect x="347.50" y="249.95" width="1.00" height="5.75" fill="#7588a4"/>
<rect x="355.20" y="249.95" width="1.00" height="5.75" fill="#bcc6d3"/>
<rect x="357.70" y="249.95" width="1.00" height="5.75" fill="#bcc6d3"/>
<rect x="492.00" y="249.95" width="1.00" height="5.75" fill="#7588a4"/>
<rect x="64.50" y="257.10" width="0.80" height="5.75" fill="#7588a4"/>
<rect x="89.00" y="257.10" width="1.00" height="5.75" fill="#bcc6d3"/>
<rect x="114.00" y="257.10" width="1.00" height="5.75" fill="#bcc6d3"/>
<rect x="118.70" y="257.10" width="1.00" height="5.75" fill="#bcc6d3"/>
<rect x="140.70" y="257.10" width="1.00" height="5.75" fill="#bcc6d3"/>
<rect x="155.70" y="257.10" width="1.00" height="5.75" fill="#bcc6d3"/>
<rect x="171.50" y="257.10" width="1.00" height="5.75" fill="#bcc6d3"/>
<rect x="191.50" y="257.10" width="1.00" height="5.75" fill="#bcc6d3"/>
<rect x="282.70" y="257.10" width="1.00" height="5.75" fill="#bcc6d3"/>
<rect x="339.00" y="257.10" width="1.00" height="5.75" fill="#bcc6d3"/>
<rect x="354.00" y="257.10" width="1.00" height="5.75" fill="#bcc6d3"/>
<rect x="366.50" y="257.10" width="1.00" height="5.75" fill="#bcc6d3"/>
<rect x="432.00" y="257.10" width="1.00" height="5.75" fill="#bcc6d3"/>
<rect x="485.70" y="257.10" width="1.00" height="5.75" fill="#bcc6d3"/>
<rect x="80.70" y="264.25" width="1.00" height="5.75" fill="#bcc6d3"/>
<rect x="125.70" y="264.25" width="1.00" height="5.75" fill="#bcc6d3"/>
<rect x="254.00" y="264.25" width="1.00" height="5.75" fill="#bcc6d3"/>
<rect x="257.00" y="264.25" width="1.00" height="5.75" fill="#bcc6d3"/>
<rect x="279.50" y="264.25" width="1.00" height="5.75" fill="#9dadc2"/>
<rect x="289.00" y="264.25" width="1.00" height="5.75" fill="#bcc6d3"/>
<rect x="308.70" y="264.25" width="1.00" height="5.75" fill="#bcc6d3"/>
<rect x="338.20" y="264.25" width="1.00" height="5.75" fill="#bcc6d3"/>
<rect x="343.20" y="264.25" width="1.00" height="5.75" fill="#7588a4"/>
<rect x="370.70" y="264.25" width="1.00" height="5.75" fill="#bcc6d3"/>
<rect x="391.50" y="264.25" width="1.00" height="5.75" fill="#bcc6d3"/>
<rect x="148.20" y="271.40" width="1.00" height="5.75" fill="#bcc6d3"/>
<rect x="191.50" y="271.40" width="1.00" height="5.75" fill="#bcc6d3"/>
<rect x="200.70" y="271.40" width="1.00" height="5.75" fill="#bcc6d3"/>
<rect x="310.70" y="271.40" width="1.00" height="5.75" fill="#bcc6d3"/>
<rect x="341.20" y="271.40" width="1.00" height="5.75" fill="#bcc6d3"/>
<rect x="361.50" y="271.40" width="1.00" height="5.75" fill="#bcc6d3"/>
<rect x="369.50" y="271.40" width="1.00" height="5.75" fill="#bcc6d3"/>
<rect x="377.70" y="271.40" width="1.00" height="5.75" fill="#bcc6d3"/>
<rect x="404.00" y="271.40" width="1.00" height="5.75" fill="#bcc6d3"/>
<rect x="456.50" y="271.40" width="1.00" height="5.75" fill="#bcc6d3"/>
<rect x="464.00" y="271.40" width="1.00" height="5.75" fill="#bcc6d3"/>
<rect x="479.00" y="271.40" width="1.00" height="5.75" fill="#bcc6d3"/>
<rect x="481.50" y="271.40" width="1.00" height="5.75" fill="#bcc6d3"/>
<rect x="117.70" y="278.55" width="1.00" height="5.75" fill="#bcc6d3"/>
<rect x="204.00" y="278.55" width="1.00" height="5.75" fill="#bcc6d3"/>
<rect x="207.70" y="278.55" width="1.00" height="5.75" fill="#bcc6d3"/>
<rect x="209.50" y="278.55" width="1.00" height="5.75" fill="#bcc6d3"/>
<rect x="302.00" y="278.55" width="1.00" height="5.75" fill="#bcc6d3"/>
<rect x="312.00" y="278.55" width="1.00" height="5.75" fill="#bcc6d3"/>
<rect x="385.70" y="278.55" width="1.00" height="5.75" fill="#bcc6d3"/>
<rect x="389.50" y="278.55" width="1.00" height="5.75" fill="#bcc6d3"/>
<rect x="402.70" y="278.55" width="1.00" height="5.75" fill="#bcc6d3"/>
<rect x="467.70" y="278.55" width="1.00" height="5.75" fill="#bcc6d3"/>
<rect x="487.00" y="278.55" width="1.00" height="5.75" fill="#bcc6d3"/>
<rect x="84.00" y="285.70" width="1.00" height="5.75" fill="#bcc6d3"/>
<rect x="199.00" y="285.70" width="1.00" height="5.75" fill="#bcc6d3"/>
<rect x="277.50" y="285.70" width="1.00" height="5.75" fill="#bcc6d3"/>
<rect x="280.70" y="285.70" width="1.00" height="5.75" fill="#bcc6d3"/>
<rect x="310.70" y="285.70" width="1.00" height="5.75" fill="#bcc6d3"/>
<rect x="324.00" y="285.70" width="1.00" height="5.75" fill="#bcc6d3"/>
<rect x="394.50" y="285.70" width="1.00" height="5.75" fill="#bcc6d3"/>
<rect x="400.00" y="285.70" width="1.00" height="5.75" fill="#bcc6d3"/>
<rect x="119.50" y="292.85" width="1.00" height="5.75" fill="#bcc6d3"/>
<rect x="207.70" y="292.85" width="1.00" height="5.75" fill="#bcc6d3"/>
<rect x="255.70" y="292.85" width="1.00" height="5.75" fill="#bcc6d3"/>
<rect x="290.70" y="292.85" width="1.00" height="5.75" fill="#bcc6d3"/>
<rect x="331.50" y="292.85" width="1.00" height="5.75" fill="#bcc6d3"/>
<rect x="336.50" y="292.85" width="1.00" height="5.75" fill="#bcc6d3"/>
<rect x="406.50" y="292.85" width="1.00" height="5.75" fill="#bcc6d3"/>
<rect x="277.70" y="300.00" width="1.00" height="5.75" fill="#bcc6d3"/>
<rect x="330.20" y="300.00" width="1.00" height="5.75" fill="#bcc6d3"/>
<rect x="347.70" y="307.15" width="1.00" height="5.75" fill="#bcc6d3"/>
<rect x="369.50" y="307.15" width="1.00" height="5.75" fill="#bcc6d3"/>
<rect x="107.00" y="314.30" width="1.00" height="5.75" fill="#bcc6d3"/>
</g>
<text transform="translate(40.5,26.90) scale(0.87,1)" class="g">NPM1</text>
<text transform="translate(40.5,34.05) scale(0.87,1)" class="g">DNM3TA</text>
<text transform="translate(40.5,41.20) scale(0.87,1)" class="g">FLT3-ITD</text>
<text transform="translate(40.5,48.35) scale(0.87,1)" class="g">NRAS</text>
<text transform="translate(40.5,55.50) scale(0.87,1)" class="g">TET2</text>
<text transform="translate(40.5,62.65) scale(0.87,1)" class="g">IDH2</text>
<text transform="translate(40.5,69.80) scale(0.87,1)" class="g">RUNX1</text>
<text transform="translate(40.5,76.95) scale(0.87,1)" class="g">ASXL1</text>
<text transform="translate(40.5,84.10) scale(0.87,1)" class="g">TP53</text>
<text transform="translate(40.5,91.25) scale(0.87,1)" class="g">SRSF2</text>
<text transform="translate(40.5,98.40) scale(0.87,1)" class="g">PTPN11</text>
<text transform="translate(40.5,105.55) scale(0.87,1)" class="g">WT1</text>
<text transform="translate(40.5,112.70) scale(0.87,1)" class="g">IDH1</text>
<text transform="translate(40.5,119.85) scale(0.87,1)" class="g">KRAS</text>
<text transform="translate(40.5,127.00) scale(0.87,1)" class="g">FLT3-TKD</text>
<text transform="translate(40.5,134.15) scale(0.87,1)" class="g">KIT</text>
<text transform="translate(40.5,141.30) scale(0.87,1)" class="g">STAG2</text>
<text transform="translate(40.5,148.45) scale(0.87,1)" class="g">BCOR</text>
<text transform="translate(40.5,155.60) scale(0.87,1)" class="g">SF3B1</text>
<text transform="translate(40.5,162.75) scale(0.87,1)" class="g">CEBPAD</text>
<text transform="translate(40.5,169.90) scale(0.87,1)" class="g">RAD21</text>
<text transform="translate(40.5,177.05) scale(0.87,1)" class="g">PHF6</text>
<text transform="translate(40.5,184.20) scale(0.87,1)" class="g">EZH2</text>
<text transform="translate(40.5,191.35) scale(0.87,1)" class="g">GATA2</text>
<text transform="translate(40.5,198.50) scale(0.87,1)" class="g">CBL</text>
<text transform="translate(40.5,205.65) scale(0.87,1)" class="g">U2AF1</text>
<text transform="translate(40.5,212.80) scale(0.87,1)" class="g">BCORL1</text>
<text transform="translate(40.5,219.95) scale(0.87,1)" class="g">JAK2</text>
<text transform="translate(40.5,227.10) scale(0.87,1)" class="g">ETV6</text>
<text transform="translate(40.5,234.25) scale(0.87,1)" class="g">KDM6A</text>
<text transform="translate(40.5,241.40) scale(0.87,1)" class="g">CSF3R</text>
<text transform="translate(40.5,248.55) scale(0.87,1)" class="g">CUX1</text>
<text transform="translate(40.5,255.70) scale(0.87,1)" class="g">SMC1A</text>
<text transform="translate(40.5,262.85) scale(0.87,1)" class="g">SMC3</text>
<text transform="translate(40.5,270.00) scale(0.87,1)" class="g">ZRSR2</text>
<text transform="translate(40.5,277.15) scale(0.87,1)" class="g">IKZF1</text>
<text transform="translate(40.5,284.30) scale(0.87,1)" class="g">NOTCH1</text>
<text transform="translate(40.5,291.45) scale(0.87,1)" class="g">SETBP1</text>
<text transform="translate(40.5,298.60) scale(0.87,1)" class="g">BRAF</text>
<text transform="translate(40.5,305.75) scale(0.87,1)" class="g">SF1</text>
<text transform="translate(40.5,312.90) scale(0.87,1)" class="g">U2AF2</text>
<text transform="translate(40.5,320.05) scale(0.87,1)" class="g">SF3A1</text>
<text transform="translate(494.9,26.90) scale(0.87,1)" class="p">30.8%</text>
<text transform="translate(494.9,34.05) scale(0.87,1)" class="p">27.8%</text>
<text transform="translate(494.9,41.20) scale(0.87,1)" class="p">20.9%</text>
<text transform="translate(494.9,48.35) scale(0.87,1)" class="p">18%</text>
<text transform="translate(494.9,55.50) scale(0.87,1)" class="p">16.4%</text>
<text transform="translate(494.9,62.65) scale(0.87,1)" class="p">12.3%</text>
<text transform="translate(494.9,69.80) scale(0.87,1)" class="p">11.9%</text>
<text transform="translate(494.9,76.95) scale(0.87,1)" class="p">11.5%</text>
<text transform="translate(494.9,84.10) scale(0.87,1)" class="p">10.4%</text>
<text transform="translate(494.9,91.25) scale(0.87,1)" class="p">10.2%</text>
<text transform="translate(494.9,98.40) scale(0.87,1)" class="p">9.9%</text>
<text transform="translate(494.9,105.55) scale(0.87,1)" class="p">9%</text>
<text transform="translate(494.9,112.70) scale(0.87,1)" class="p">8.9%</text>
<text transform="translate(494.9,119.85) scale(0.87,1)" class="p">7.3%</text>
<text transform="translate(494.9,127.00) scale(0.87,1)" class="p">7.3%</text>
<text transform="translate(494.9,134.15) scale(0.87,1)" class="p">5.9%</text>
<text transform="translate(494.9,141.30) scale(0.87,1)" class="p">4.1%</text>
<text transform="translate(494.9,148.45) scale(0.87,1)" class="p">3.5%</text>
<text transform="translate(494.9,155.60) scale(0.87,1)" class="p">2.8%</text>
<text transform="translate(494.9,162.75) scale(0.87,1)" class="p">2.8%</text>
<text transform="translate(494.9,169.90) scale(0.87,1)" class="p">2.7%</text>
<text transform="translate(494.9,177.05) scale(0.87,1)" class="p">2.6%</text>
<text transform="translate(494.9,184.20) scale(0.87,1)" class="p">2.3%</text>
<text transform="translate(494.9,191.35) scale(0.87,1)" class="p">2.3%</text>
<text transform="translate(494.9,198.50) scale(0.87,1)" class="p">2.1%</text>
<text transform="translate(494.9,205.65) scale(0.87,1)" class="p">2.1%</text>
<text transform="translate(494.9,212.80) scale(0.87,1)" class="p">2.1%</text>
<text transform="translate(494.9,219.95) scale(0.87,1)" class="p">2%</text>
<text transform="translate(494.9,227.10) scale(0.87,1)" class="p">1.5%</text>
<text transform="translate(494.9,234.25) scale(0.87,1)" class="p">1.5%</text>
<text transform="translate(494.9,241.40) scale(0.87,1)" class="p">1.3%</text>
<text transform="translate(494.9,248.55) scale(0.87,1)" class="p">1.2%</text>
<text transform="translate(494.9,255.70) scale(0.87,1)" class="p">1.2%</text>
<text transform="translate(494.9,262.85) scale(0.87,1)" class="p">1.2%</text>
<text transform="translate(494.9,270.00) scale(0.87,1)" class="p">1%</text>
<text transform="translate(494.9,277.15) scale(0.87,1)" class="p">1%</text>
<text transform="translate(494.9,284.30) scale(0.87,1)" class="p">0.8%</text>
<text transform="translate(494.9,291.45) scale(0.87,1)" class="p">0.6%</text>
<text transform="translate(494.9,298.60) scale(0.87,1)" class="p">0.5%</text>
<text transform="translate(494.9,305.75) scale(0.87,1)" class="p">0.1%</text>
<text transform="translate(494.9,312.90) scale(0.87,1)" class="p">0.1%</text>
<text transform="translate(494.9,320.05) scale(0.87,1)" class="p">0.1%</text>
<path d="M101.0,401.0 L101.00,340.00 A60.1,60.1 0 0 1 115.45,458.53 Z" fill="#637893"/>
<path d="M101.0,401.0 L115.45,458.53 A60.1,60.1 0 0 1 60.42,444.06 Z" fill="#a6c2e7"/>
<path d="M101.0,401.0 L60.42,444.06 A60.1,60.1 0 0 1 101.00,340.00 Z" fill="#f1f1f1"/>
<line x1="101.0" y1="401.0" x2="101.00" y2="340.00" stroke="#fff" stroke-width="0.9"/>
<line x1="101.0" y1="401.0" x2="60.42" y2="444.06" stroke="#fff" stroke-width="0.9"/>
<circle cx="101.4" cy="400.1" r="60.1" fill="none" stroke="#5a6f8c" stroke-width="1.7"/>
<text x="60.27" y="391.10" class="pl" font-size="10.6" textLength="26.95" lengthAdjust="spacingAndGlyphs">39.1%</text>
<text x="120.77" y="400.90" class="pl" font-size="10.6" textLength="26.55" lengthAdjust="spacingAndGlyphs" style="fill:#f4f4f4;stroke:#f4f4f4">46.1%</text>
<text x="79.47" y="439.70" class="pl" font-size="10.6" textLength="26.35" lengthAdjust="spacingAndGlyphs">14.8%</text>
<text x="35.53" y="468.40" class="lt" font-size="9.3" textLength="42.54" lengthAdjust="spacingAndGlyphs">Karyotype</text>
<rect x="37.4" y="475.60" width="11.9" height="11.9" fill="#f2f2f2" stroke="#5f718c" stroke-width="1.0"/>
<text x="56.18" y="485.50" class="lg" font-size="8.4" textLength="110.66" lengthAdjust="spacingAndGlyphs">1-2 Chromosomal Aberrations</text>
<rect x="37.4" y="491.55" width="11.9" height="11.9" fill="#a8c3e5" stroke="#5f718c" stroke-width="1.0"/>
<text x="56.18" y="501.45" class="lg" font-size="8.4" textLength="72.26" lengthAdjust="spacingAndGlyphs">Complex Karyotype</text>
<rect x="37.4" y="507.50" width="11.9" height="11.9" fill="#6d7f98" stroke="#5f718c" stroke-width="1.0"/>
<text x="56.18" y="517.40" class="lg" font-size="8.4" textLength="66.26" lengthAdjust="spacingAndGlyphs">Normal Karyotype</text>
<line x1="223.6" y1="340.6" x2="223.6" y2="470.4" stroke="#8c8c8c" stroke-width="1.1"/>
<line x1="223.1" y1="469.9" x2="499.2" y2="469.9" stroke="#8c8c8c" stroke-width="1.3"/>
<line x1="221.79999999999998" y1="464.60" x2="223.6" y2="464.60" stroke="#333" stroke-width="0.8"/>
<text x="221.2" y="467.40" class="yt" text-anchor="end">0</text>
<line x1="221.79999999999998" y1="434.60" x2="223.6" y2="434.60" stroke="#333" stroke-width="0.8"/>
<text x="221.2" y="437.40" class="yt" text-anchor="end">2</text>
<line x1="221.79999999999998" y1="404.60" x2="223.6" y2="404.60" stroke="#333" stroke-width="0.8"/>
<text x="221.2" y="407.40" class="yt" text-anchor="end">4</text>
<line x1="221.79999999999998" y1="374.60" x2="223.6" y2="374.60" stroke="#333" stroke-width="0.8"/>
<text x="221.2" y="377.40" class="yt" text-anchor="end">6</text>
<line x1="221.79999999999998" y1="344.60" x2="223.6" y2="344.60" stroke="#333" stroke-width="0.8"/>
<text x="221.2" y="347.40" class="yt" text-anchor="end">8</text>
<rect x="229.40" y="346.50" width="15.70" height="117.00" fill="#667b97" stroke="#52688a" stroke-width="0.6"/>
<line x1="237.25" y1="470.3" x2="237.25" y2="472.0" stroke="#333" stroke-width="0.8"/>
<text class="xt" text-anchor="end" transform="translate(243.25,476.5) rotate(-60) scale(0.92,1)">7-</text>
<rect x="252.05" y="368.60" width="15.70" height="94.90" fill="#667b97" stroke="#52688a" stroke-width="0.6"/>
<line x1="259.90" y1="470.3" x2="259.90" y2="472.0" stroke="#333" stroke-width="0.8"/>
<text class="xt" text-anchor="end" transform="translate(265.90,476.5) rotate(-60) scale(0.92,1)">t(8;21)</text>
<rect x="274.70" y="374.50" width="15.70" height="89.00" fill="#667b97" stroke="#52688a" stroke-width="0.6"/>
<line x1="282.55" y1="470.3" x2="282.55" y2="472.0" stroke="#333" stroke-width="0.8"/>
<text class="xt" text-anchor="end" transform="translate(288.55,476.5) rotate(-60) scale(0.92,1)">5q-</text>
<rect x="297.35" y="377.20" width="15.70" height="86.30" fill="#667b97" stroke="#52688a" stroke-width="0.6"/>
<line x1="305.20" y1="470.3" x2="305.20" y2="472.0" stroke="#333" stroke-width="0.8"/>
<text class="xt" text-anchor="end" transform="translate(311.20,476.5) rotate(-60) scale(0.92,1)">inv(16)</text>
<rect x="320.00" y="404.90" width="15.70" height="58.60" fill="#667b97" stroke="#52688a" stroke-width="0.6"/>
<line x1="327.85" y1="470.3" x2="327.85" y2="472.0" stroke="#333" stroke-width="0.8"/>
<text class="xt" text-anchor="end" transform="translate(333.85,476.5) rotate(-60) scale(0.92,1)">abn17p</text>
<rect x="342.65" y="409.00" width="15.70" height="54.50" fill="#667b97" stroke="#52688a" stroke-width="0.6"/>
<line x1="350.50" y1="470.3" x2="350.50" y2="472.0" stroke="#333" stroke-width="0.8"/>
<text class="xt" text-anchor="end" transform="translate(356.50,476.5) rotate(-60) scale(0.92,1)">17-</text>
<rect x="365.30" y="424.00" width="15.70" height="39.50" fill="#667b97" stroke="#52688a" stroke-width="0.6"/>
<line x1="373.15" y1="470.3" x2="373.15" y2="472.0" stroke="#333" stroke-width="0.8"/>
<text class="xt" text-anchor="end" transform="translate(379.15,476.5) rotate(-60) scale(0.92,1)">5-</text>
<rect x="387.95" y="428.00" width="15.70" height="35.50" fill="#667b97" stroke="#52688a" stroke-width="0.6"/>
<line x1="395.80" y1="470.3" x2="395.80" y2="472.0" stroke="#333" stroke-width="0.8"/>
<text class="xt" text-anchor="end" transform="translate(401.80,476.5) rotate(-60) scale(0.92,1)">t(v;11)</text>
<rect x="410.60" y="443.60" width="15.70" height="19.90" fill="#667b97" stroke="#52688a" stroke-width="0.6"/>
<line x1="418.45" y1="470.3" x2="418.45" y2="472.0" stroke="#333" stroke-width="0.8"/>
<text class="xt" text-anchor="end" transform="translate(424.45,476.5) rotate(-60) scale(0.92,1)">t(9;11)</text>
<rect x="433.25" y="449.90" width="15.70" height="13.60" fill="#667b97" stroke="#52688a" stroke-width="0.6"/>
<line x1="441.10" y1="470.3" x2="441.10" y2="472.0" stroke="#333" stroke-width="0.8"/>
<text class="xt" text-anchor="end" transform="translate(447.10,476.5) rotate(-60) scale(0.92,1)">t(6;9)</text>
<rect x="455.90" y="453.10" width="15.70" height="10.40" fill="#667b97" stroke="#52688a" stroke-width="0.6"/>
<line x1="463.75" y1="470.3" x2="463.75" y2="472.0" stroke="#333" stroke-width="0.8"/>
<text class="xt" text-anchor="end" transform="translate(469.75,476.5) rotate(-60) scale(0.92,1)">inv(3)</text>
<rect x="478.55" y="462.90" width="15.70" height="0.60" fill="#667b97" stroke="#52688a" stroke-width="0.6"/>
<line x1="486.40" y1="470.3" x2="486.40" y2="472.0" stroke="#333" stroke-width="0.8"/>
<text class="xt" text-anchor="end" transform="translate(492.40,476.5) rotate(-60) scale(0.92,1)">t(9;22)</text>
<text class="at" text-anchor="middle" textLength="112.8" lengthAdjust="spacingAndGlyphs" transform="translate(205.6,406.5) rotate(-90)">Aberration Frequency (%)</text>
<text x="311.99" y="519.70" class="at" font-size="10.2" textLength="99.42" lengthAdjust="spacingAndGlyphs">Cytogenetic Aberration</text>
</g>
</svg>
</body></html>
